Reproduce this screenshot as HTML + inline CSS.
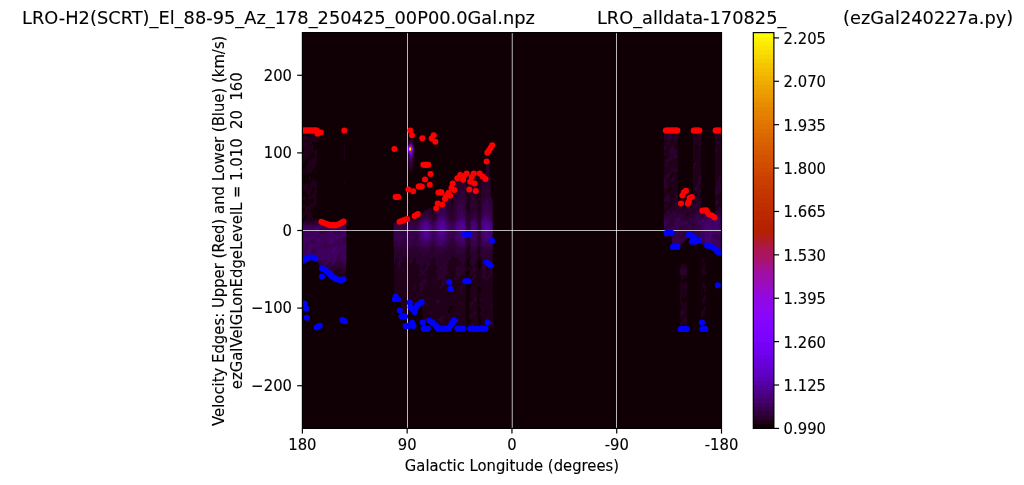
<!DOCTYPE html>
<html lang="en"><head><meta charset="utf-8"><title>LRO ezGal velocity edges</title>
<style>html,body{margin:0;padding:0;background:#fff}svg{display:block}text{font-family:"DejaVu Sans","Liberation Sans",sans-serif;fill:#000;stroke:#000;stroke-width:.12px}.s{font-size:14.815px}.t{font-size:17.778px}</style></head><body>
<svg width="1024" height="485" viewBox="0 0 1024 485">
<rect width="1024" height="485" fill="#fff"/>
<rect x="302.4" y="32.6" width="419.1" height="395.79999999999995" fill="#100006"/>
<clipPath id="ac"><rect x="302.4" y="32.6" width="419.1" height="395.79999999999995"/></clipPath>
<g clip-path="url(#ac)">
<g shape-rendering="crispEdges">
<path fill="#200019" d="M304.5 134L304.7 133.9L304.9 134L305.9 136L307.1 135.4L307.9 136L308.2 136.9L309.4 137L310.5 136.8L310.7 136L311.4 134L311.7 133.9L312.9 133.7L314 133.6L315.2 133.4L316.4 132.8L317.1 134L317 136L317 138L316.9 140L316.7 142L316.4 143L315.9 142L315.2 141.1L314.2 142L314 142.3L313.8 142L313.8 140L312.9 139.8L312.6 140L312.4 142L312.1 144L312.9 144.6L314 145.1L314.5 146L314 146.8L313.4 148L313.5 149.9L314 151.1L314.5 149.9L315.2 149L316.4 149.2L316.8 149.9L316.9 151.9L316.5 153.9L316.7 155.9L316.7 157.9L316.9 159.9L317 161.9L316.6 163.9L316.4 164.7L315.6 165.9L315.2 166L314 167.2L313.8 167.8L313.6 169.8L312.9 170.8L312.3 171.8L311.7 172.8L310.7 173.8L310.5 174.2L310.2 173.8L309.4 173.4L308.9 173.8L308.2 174.6L307.6 173.8L307.1 172.2L305.9 172.7L305.1 173.8L304.7 174.3L303.6 174.8L302.6 173.8L302.7 171.8L303.6 171L304.3 169.8L304.7 168.4L305.7 169.8L305.9 170.4L306.1 169.8L306.2 167.8L306.8 165.9L307.1 165.4L307.6 163.9L308 161.9L308.2 161.4L309.2 159.9L309.4 159.2L310.1 159.9L310.5 160L310.6 159.9L311.7 158.2L312.9 158.6L313.7 157.9L313.8 155.9L314 155.6L314.9 153.9L314 152.5L313.3 151.9L312.9 151.5L311.9 151.9L311.7 152.3L311.1 153.9L310.5 154.6L310.1 153.9L309.4 153.7L309.2 153.9L309.3 155.9L308.6 157.9L308.2 158.1L307.1 158.4L306.1 159.9L305.9 160.2L304.7 161.3L304.1 161.9L303.6 163.3L302.8 161.9L303.5 159.9L302.7 157.9L302.6 155.9L302.6 153.9L303.6 152.3L303.8 151.9L303.9 149.9L303.6 149.2L302.7 148L302.5 146L302.5 144L302.6 142L302.6 140L302.6 138L303.6 136.4L303.8 136ZM304.7 147.5L304.2 148L304.7 148.7L305.1 148ZM310.5 144.4L309.5 146L310.5 146.5L311.1 146ZM312.9 135.1L312.7 136L312.9 136.4L313.1 136ZM343.8 134L344.3 133.2L344.8 134L344.5 136L344.4 138L344.3 138.9L344.2 138L344.1 136ZM663.8 134L664.5 132.9L665.6 132.8L666.8 132.8L667.9 132.7L669.1 132.8L670.3 132.6L671.4 132.8L672.6 133.3L673.8 133.1L674.9 132.9L676.1 132.7L677.3 132.6L678.1 134L678.1 136L678.1 138L678 140L678 142L678 144L677.9 146L678 148L678 149.9L678 151.9L678.1 153.9L678.1 155.9L678.1 157.9L678 159.9L677.7 161.9L677.8 163.9L677.8 165.9L678.1 167.8L678.2 169.8L677.8 171.8L677.3 172.9L676.9 173.8L677.3 174.4L677.9 175.8L678 177.8L677.9 179.8L677.6 181.8L677.6 183.8L677.9 185.7L678 187.7L677.9 189.7L678 191.7L678.1 193.7L678.1 195.7L678.2 197.7L677.9 199.7L678 201.7L677.9 203.6L678 205.6L678.4 206.5L679 205.6L679.6 204.7L680.8 204.4L681.3 203.6L681.3 201.7L681.9 200.6L682.4 199.7L682.4 197.7L682.2 195.7L683.1 194.2L683.4 193.7L684.2 192.3L685.4 192.3L686.6 192.3L687.7 192.6L688.4 193.7L688.9 194.8L690.1 194.3L690.9 195.7L691.2 196.5L691.9 197.7L692.4 198.3L692.7 197.7L692.7 195.7L692.8 193.7L692.8 191.7L692.8 189.7L692.9 187.7L693.1 185.7L693.1 183.8L693 181.8L692.8 179.8L692.7 177.8L692.8 175.8L692.9 173.8L692.9 171.8L692.8 169.8L692.7 167.8L692.8 165.9L693.1 163.9L693.6 162.3L694.7 162.2L695.5 161.9L694.7 161L693.6 161.5L693 159.9L693.4 157.9L693.2 155.9L693.5 153.9L693.2 151.9L692.9 149.9L692.9 148L692.8 146L693 144L692.8 142L692.8 140L693.1 138L693.2 136L693.4 134L693.6 133.8L694.7 133.5L695.9 133.2L697.1 133.1L698.2 133.8L699.4 132.8L700.5 132.7L701.3 134L701.3 136L701.2 138L701.3 140L701.4 142L701.4 144L701.3 146L701.2 148L701.2 149.9L701.1 151.9L700.9 153.9L700.6 155.9L701.1 157.9L701 159.9L700.5 161.5L700.4 161.9L700.5 162.5L700.9 163.9L701 165.9L701.2 167.8L701.2 169.8L701.2 171.8L701.3 173.8L701.3 175.8L701.3 177.8L701.4 179.8L701.4 181.8L701.3 183.8L701.2 185.7L701.2 187.7L701.3 189.7L701.4 191.7L701.1 193.7L701 195.7L701.1 197.7L701.1 199.7L701.3 201.7L701.3 203.6L701.4 205.6L701.4 207.6L701.4 209.6L701.4 211.6L701.7 211.9L702.9 212L704 212.1L705.2 212L706.4 212L707.5 212L708.5 213.6L708.7 213.9L709.9 213.9L710.9 215.6L711 215.8L712.2 215.8L713.2 217.6L713.4 217.8L714.5 217.8L714.7 217.6L714.7 215.6L714.7 213.6L714.8 211.6L715.6 209.6L715.2 207.6L715 205.6L714.9 203.6L714.8 201.7L714.9 199.7L715 197.7L714.9 195.7L714.8 193.7L714.8 191.7L714.8 189.7L714.9 187.7L715.2 185.7L715 183.8L715.3 181.8L715.3 179.8L715 177.8L715 175.8L714.9 173.8L715 171.8L715 169.8L715.2 167.8L715.3 165.9L715.1 163.9L715.1 161.9L715.1 159.9L715.6 157.9L715.1 155.9L715 153.9L714.9 151.9L714.9 149.9L714.9 148L715.3 146L715 144L715 142L715 140L714.8 138L715 136L715.3 134L715.7 133.5L716.8 133.1L718 132.7L719.2 132.5L720.3 132.8L721.5 133.4L721.5 134L721.5 135.6L721 136L721.5 136.3L721.5 138L721.5 140L721.5 142L721.5 144L721.5 146L721.5 148L721.5 149.9L721.5 151.6L721.3 151.9L721.5 153.1L721.5 153.9L721.5 155.9L721.5 157.9L721.5 159.9L721.5 161.9L721.5 163.9L721.5 165.9L721.5 167.8L721.5 169.8L721.5 171.8L721.5 173.8L721.5 175.8L721.5 177.8L721.5 178.3L721.1 179.8L721.5 181.6L721.5 181.8L721.5 183L721.4 183.8L721.5 183.9L721.5 185.7L721.5 187.7L721.5 189.7L721.5 191.7L721.5 193.3L721.3 193.7L721.2 195.7L720.3 197.5L720.3 197.7L720.3 197.8L721.5 198.1L721.5 199.7L721.5 201.7L721.5 203.6L721.5 205.6L721.5 207.6L721.5 209.6L721.5 211.6L721.5 213.6L721.5 215.6L721.5 217.6L721.5 219.6L721.5 221.5L721.5 223.5L721.5 225.5L721.5 227.5L721.5 229.5L721.5 231.5L721.5 233.5L721.5 235.5L721.5 237.5L721.5 239.5L721.5 241.4L721.5 243.4L721.5 245.4L721.5 247.4L721.5 249.4L721.5 251.4L721.5 253.4L721.5 255.1L720.3 255.1L719.2 255.1L718.2 253.4L718 253.2L716.8 253.1L715.7 253.1L714.7 251.4L714.5 251.1L713.4 251.2L712.3 249.4L712.2 249.2L711 249.2L709.9 249.2L708.8 247.4L708.7 247.2L707.5 247.2L706.4 247.2L705.3 245.4L705.2 245.2L704 245.2L702.9 245.2L701.9 243.4L701.7 243.2L700.5 243.1L699.4 243.1L698.2 243.2L698.1 243.4L697.1 245.2L695.9 245.2L694.7 245.1L693.6 245.1L692.6 243.4L692.6 241.4L692.4 241.1L691.4 239.5L691.2 239.1L690.1 239.1L688.9 239.1L687.9 237.5L687.7 237.1L687.5 237.5L686.6 239.1L686.4 239.5L685.4 241.1L685.2 241.4L684.2 243L683.1 243.1L682.8 243.4L681.9 245L681.7 245.4L680.8 247L679.6 247L679.4 247.4L678.4 249L677.3 249.1L676.1 249.1L674.9 249.1L673.8 249.1L672.8 247.4L672.8 245.4L672.6 245.1L671.6 243.4L671.6 241.4L671.6 239.5L671.6 237.5L671.4 237.1L670.3 237.1L669.1 237.1L667.9 237.1L666.8 237.1L665.6 237.2L664.5 237.1L663.5 235.5L663.5 233.5L663.5 231.5L663.5 229.5L663.5 227.5L663.5 225.5L663.4 223.5L663.5 221.5L663.5 219.6L663.5 217.6L663.6 215.6L663.7 213.6L663.7 211.6L663.8 209.6L663.7 207.6L663.9 205.6L663.9 203.6L663.8 201.7L663.6 199.7L663.8 197.7L664 195.7L663.8 193.7L663.7 191.7L663.8 189.7L663.7 187.7L663.7 185.7L663.7 183.8L663.6 181.8L663.6 179.8L663.7 177.8L663.9 175.8L664.4 173.8L664 171.8L664 169.8L663.9 167.8L663.8 165.9L663.8 163.9L663.8 161.9L663.9 159.9L664 157.9L663.8 155.9L663.9 153.9L664.1 151.9L663.8 149.9L663.6 148L663.7 146L664.2 144L664 142L663.7 140L663.7 138L663.7 136ZM665.6 155.5L665.4 155.9L665.2 157.9L665.6 158.5L666.8 158L666.9 157.9L666.8 157.7L665.8 155.9ZM667.9 169.4L667.3 169.8L667.9 170.7L669.1 169.8ZM669.1 179L668.8 179.8L669.1 180.4L669.4 179.8ZM670.3 163.8L670.2 163.9L670.3 164L671.4 165.2L671.9 163.9L671.4 163.6ZM672.6 173.2L672.3 173.8L671.4 174.6L670.4 175.8L670.3 176.2L669.6 177.8L670.3 178.5L671.2 177.8L671.4 177.6L672.6 175.8L672.6 175.8L673.1 173.8ZM674.9 183.1L674.3 183.8L674.9 184.2L675.1 183.8ZM685.4 203.6L685.4 203.6L685.4 203.7L685.5 203.6ZM687.7 196.8L687 197.7L686.6 198L685.5 199.7L685.9 201.7L686.6 203L687.2 201.7L687.2 199.7L687.7 198.3L688.1 197.7ZM694.7 149.3L694.6 149.9L694.7 150.5L694.8 149.9ZM697.1 145.7L696.8 146L695.9 147L695 148L695.9 148.8L697.1 149L698.1 148L698.2 146.8L698.3 146L698.2 145.8ZM718 157.7L717.9 157.9L718 158L718.1 157.9ZM719.2 138L719.1 138L719.2 138.1L719.3 138ZM670.3 183.7L670.2 183.8L670.3 183.8L670.3 183.8ZM671.4 187L671.1 187.7L670.3 188.7L669.1 188.9L667.9 189.6L667.9 189.7L667.1 191.7L667.9 192.8L668.7 191.7L669.1 190.9L670.3 191.5L671.1 189.7L671.4 188.6L672.1 187.7ZM694.7 153.5L693.7 153.9L694.7 154.4L694.9 153.9ZM697.1 175.6L697 175.8L697.1 175.9L697.1 175.8ZM670.3 204.9L669.7 205.6L670.3 206.4L670.8 205.6ZM671.4 203.4L671.3 203.6L671.4 204L671.6 203.6ZM408.7 140L409.5 138.6L410.7 138.1L411.8 138.3L413 139.9L413 140L413.9 142L414.2 143.3L414.4 144L414.8 146L415 148L415 149.9L415 151.9L415 153.9L414.9 155.9L414.7 157.9L414.6 159.9L414.3 161.9L414.2 162.9L414.1 163.9L413.9 165.9L413.5 167.8L413 169.8L413 169.9L412.4 171.8L411.8 173L410.7 173.6L409.5 172.1L409.4 171.8L408.8 169.8L408.4 167.8L408.3 167.8L407.9 165.9L407.6 163.9L407.4 161.9L407.3 159.9L407.2 157.9L407.2 157.1L407 155.9L406.8 153.9L406.5 151.9L406.2 149.9L406.2 148L406.8 146L407.2 144.7L407.3 144L407.7 142L408.3 140.6ZM315 144L315.2 143.5L315.6 144L315.2 144.3ZM344 144L344.3 142.2L344.6 144L344.6 146L344.9 148L344.5 149.9L344.9 151.9L345.1 153.9L345 155.9L345.1 157.9L344.5 159.9L344.3 160.9L344.1 159.9L343.5 157.9L343.6 155.9L343.6 153.9L343.7 151.9L344.1 149.9L343.7 148L344 146ZM485.5 163.9L486.3 162.4L487.5 162.4L488.7 162.5L489.5 163.9L489.5 165.9L489.5 167.8L489.4 169.8L489.4 171.8L489.4 173.8L489.8 174.4L490.6 175.8L490.7 177.8L490.6 179.8L490.7 181.8L490.7 183.8L490.7 185.7L490.7 187.7L490.7 189.7L490.7 191.7L490.7 193.7L490.8 195.7L491 196.2L491.9 197.7L492.2 198.1L493.1 199.7L493.1 201.7L493.1 203.6L493.1 205.6L493.1 207.6L493.1 209.6L493.1 211.6L493.1 213.6L493.1 215.6L493.1 217.6L493.2 219.6L493.2 221.5L493.2 223.5L493.2 225.5L493.2 227.5L493.2 229.5L493.2 231.5L493.2 233.5L493.2 235.5L493.2 237.5L493.2 239.5L493.2 241.4L493.2 243.4L493.2 245.4L493.1 247.4L493.1 249.4L493 251.4L493.1 253.4L493 255.4L492.9 257.4L492.9 259.3L492.9 261.3L492.8 263.3L492.9 265.3L492.9 267.3L492.9 269.3L492.9 271.3L492.9 273.3L492.9 275.3L492.8 277.2L492.8 279.2L492.7 281.2L492.8 283.2L492.9 285.2L492.7 287.2L492.5 289.2L492.6 291.2L492.4 293.2L492.7 295.1L492.8 297.1L492.7 299.1L492.8 301.1L492.9 303.1L492.9 305.1L492.9 307.1L492.7 309.1L492.7 311.1L492.8 313L492.7 315L492.5 317L492.8 319L492.7 321L492.8 323L492.7 325L492.7 327L492.2 328L491 328.1L489.8 328L488.7 327.9L487.5 327.9L486.3 328L485.2 328L484 328.1L482.8 327.6L481.7 327.8L480.8 327L480.5 326.4L479.4 325L480.5 323.9L480.9 323L480.9 321L481 319L481 317L480.5 316.3L479.4 315L479.4 313L480.5 311.9L480.7 311.1L480.5 309.1L480.5 309L479.4 307.1L479.4 305.1L479.4 303.1L479.4 301.1L479.4 299.1L479.4 297.1L479.4 295.1L479.4 293.2L480.5 292L480.6 291.2L480.9 289.2L480.5 287.6L479.4 287.2L479.4 286.1L478.2 286.1L478.2 287.2L478.2 289.2L478.2 291.2L478.2 293.2L478.2 295.1L478.2 297.1L478.2 299.1L478.2 301.1L478.2 303.1L478.2 305.1L478.2 307.1L478.2 309.1L478.2 311.1L478.2 313L478.2 315L478.1 317L478.2 319L478.2 321L478.2 323L478.2 325L478.2 327L477 327.9L475.9 328L474.7 327.9L473.5 327.8L472.4 328.1L471.2 328.1L470 327.6L469.1 327L470 325.2L470.1 325L470.3 323L471.2 321.1L471.3 321L471.2 320.9L470 319.8L469.2 319L469 317L469 315L469.1 313L469 311.1L469 309.1L469 307.1L469 305.1L469 303.1L469.2 301.1L470 299.9L470.2 299.1L470 298.4L469.2 297.1L469.8 295.1L469.4 293.2L469.6 291.2L470 289.2L470 289.1L470.4 287.2L471.2 285.5L471.5 285.2L471.2 284.8L470.6 283.2L470.2 281.2L470 280.4L469.2 281.2L468.9 282.4L467.7 282.5L467.2 283.2L466.5 284.5L466.5 285.2L466.4 287.2L466.4 289.2L466.4 291.2L466.4 293.2L466.1 295.1L466.3 297.1L466.5 299.1L466.4 301.1L466.4 303.1L466.4 305.1L466.2 307.1L466.4 309.1L466.3 311.1L466.3 313L466.3 315L466.4 317L466.4 319L466.4 321L466.4 323L466.4 325L466.2 327L465.4 327.4L464.2 327.8L463.1 327.9L461.9 328.2L460.7 328.2L459.6 328.1L458.4 328.1L457.2 328.1L456.1 328.2L454.9 327.9L453.7 327.6L452.6 327.9L451.4 328.1L450.2 328L449.1 328.2L447.9 328.2L446.8 328.1L445.6 327.8L444.4 327.8L443.3 328.1L442.1 328.1L440.9 327.9L439.8 328L439.2 327L438.6 326.2L437.4 326.1L436.8 325L436.3 324.1L435.1 324L434 324L432.8 323.5L431.6 323.3L430.8 323L430.5 322.8L429.3 321.9L428.1 322L427 322.2L425.8 322.4L424.6 322.4L423.5 322.3L422.7 321L422.8 319L422.8 317L422.8 315L422.9 313L422.9 311.1L422.3 310L421.8 309.1L421.8 307.1L421.7 305.1L421.1 304.1L420 304L418.8 303.7L417.7 303.8L416.5 304.1L415.3 304L414.2 303.8L413 303.5L411.8 303.8L410.7 304.2L409.5 304L409 305.1L408.9 307.1L409 309.1L408.8 311.1L408.6 313L408.3 313.5L407.6 315L407.6 317L407.2 317.7L406 317.7L404.8 317.7L404.4 317L403.7 315.5L402.5 316L401.4 316L400.8 315L400.7 313L400.7 311.1L400.9 309.1L401 307.1L401 305.1L400.8 303.1L400.2 302.4L399.4 301.1L399 300.4L397.9 300.3L397.2 299.1L396.7 298.3L395.5 298.1L394.4 297.8L394 297.1L394 295.1L393.9 293.2L393.7 291.2L393.7 289.2L393.7 287.2L394 285.2L393.8 283.2L393.8 281.2L394 279.2L393.9 277.2L393.9 275.3L393.8 273.3L393.7 271.3L393.7 269.3L393.7 267.3L393.7 265.3L393.6 263.3L393.6 261.3L393.6 259.3L393.5 257.4L393.5 255.4L393.5 253.4L393.6 251.4L393.5 249.4L393.5 247.4L393.4 245.4L393.4 243.4L393.4 241.4L393.4 239.5L393.4 237.5L393.4 235.5L393.4 233.5L393.4 231.5L393.4 229.5L393.4 227.5L393.4 225.5L393.4 223.5L394.4 221.9L395.5 221.9L396.7 221.9L397.9 221.9L399 221.8L400.2 221.9L401.4 221.9L402.5 221.9L403.7 222L403.9 221.5L404.8 220L406 220L407.2 220L408.3 220L409.5 220L409.8 219.6L410.7 218.1L411.8 218.2L412.2 217.6L413 216.2L414.2 216.3L415.3 216.5L415.7 215.6L416.5 214.3L417.7 214.2L418.8 214.2L419.1 213.6L420 212.2L421.1 212.1L422.3 212.1L423.5 212.1L423.8 211.6L424.6 210.1L425.8 210L427 210L427.2 209.6L428.1 208.1L429.3 208.1L430.5 208.2L431.6 208.4L432.2 207.6L432.8 206.6L434 206.4L435.1 206.2L435.4 205.6L436.3 204.2L437.4 204.2L438.6 204.1L438.9 203.6L439.8 202.1L440.9 202L441.2 201.7L442.1 200.1L442.4 199.7L443.3 198.2L444.4 198.3L445 197.7L445.6 196.7L446.1 195.7L446.8 194.6L447.3 193.7L447.9 192.6L449.1 192.6L449.6 191.7L450.2 190.6L450.9 189.7L451.4 188.8L452 187.7L452.6 186.7L453 185.7L453.7 184.6L454.1 183.8L454.9 182.4L455.3 181.8L456.1 180.4L456.5 179.8L457.2 178.4L458.4 178.6L458.8 177.8L459.6 176.5L460.7 176.4L461.9 176.3L463.1 176.3L464.2 176.5L465.4 176.6L466.5 177.4L467.7 177.6L468.9 177L470 176.7L471.2 176.4L472.4 176.4L473.5 176.5L474.7 176.5L475.9 176.6L477 177L478.2 177.8L478.2 177.8L478.2 177.8L479.4 177L480.5 176.6L481.7 176.4L482.8 176.3L484 176.3L484.4 175.8L484.4 173.8L485.2 172.5L485.6 171.8L485.5 169.8L485.5 167.8L485.5 165.9ZM486.3 310.7L485.3 311.1L485.2 311.3L484.8 313L485.2 313.9L486.3 313.3L486.8 313L487 311.1ZM489.8 291.1L489.7 291.2L489.8 291.4L490.1 291.2ZM403.7 292.3L403.6 293.2L403.7 293.4L403.7 293.2ZM404.8 299.1L404.8 299.1L404.8 299.2L404.9 299.1ZM407.2 298.5L406.5 299.1L407.2 299.9L407.5 299.1ZM415.3 300.9L415 301.1L415.3 301.3L415.5 301.1ZM432.8 294.8L432.7 295.1L432.7 297.1L432.8 297.2L434 297.8L434.6 297.1L434.2 295.1L434 294.4ZM435.1 290.9L434.9 291.2L435.1 291.8L435.2 291.2ZM446.8 316.8L446.5 317L446.8 317.2L447.2 317ZM447.9 284.9L447.6 285.2L447.9 285.3L448.8 285.2ZM450.2 285L449.2 285.2L450.2 285.8L450.5 285.2ZM451.4 274.7L450.5 275.3L451.4 275.7L452.4 275.3ZM452.6 271.2L452.5 271.3L452.1 273.3L452.6 275L453.1 273.3L452.6 271.3ZM467.7 191.3L467.4 191.7L467.7 191.8L468.7 191.7ZM468.9 187.5L468.4 187.7L468.9 188.8L469.1 187.7ZM472.4 318.7L472.1 319L472.4 319.6L472.7 319ZM478.2 197L478.1 197.7L478.2 198.5L478.7 197.7ZM482.8 314.7L482.4 315L482.8 315.6L483.5 315ZM452.6 304.7L452.3 305.1L451.4 306.4L450.2 306.1L449.3 307.1L449.1 308.9L449 309.1L447.9 310.8L447.8 311.1L447.9 312.2L448.3 313L449.1 313.5L450.2 313.5L450.5 313L450.2 311.7L450 311.1L450.2 310.8L451.1 309.1L451.4 308.4L452.3 309.1L452.6 309.3L452.7 309.1L452.6 307.1L452.9 305.1ZM467.7 252.8L467.2 253.4L467.7 253.9L468 253.4ZM478.2 260.8L478 261.3L477.6 263.3L477.5 265.3L477.9 267.3L478.2 268.1L479.4 268.6L480.5 267.7L480.6 267.3L480.8 265.3L480.7 263.3L480.9 261.3L480.5 260L479.4 259.5ZM467.7 258.7L467.3 259.3L466.5 260.9L466.5 261.3L466.5 262.5L466.7 263.3L466.5 264.4L466.5 265.3L466.5 267.3L466.5 267.4L467.7 267.5L468 267.3L468.9 266.5L469.3 265.3L468.9 263.8L468.6 263.3L468.9 262.9L469.3 261.3L469.5 259.3L468.9 257.8ZM478.2 279.9L477.9 281.2L478 283.2L478.2 285.2L479.1 283.2L479 281.2ZM479.4 270.2L479 271.3L479.4 272L479.6 271.3ZM480.5 281.1L480.4 281.2L480.5 282.1L480.5 281.2ZM468.9 269.4L467.7 271.3L467.7 271.3L466.5 272L466.3 273.3L465.6 275.3L466.2 277.2L466.5 278.6L467.1 277.2L467.7 276L468 275.3L468.7 273.3L468.9 272.8L469.2 271.3ZM466.5 280.9L466.5 281.2L466.5 281.4L466.6 281.2ZM467.7 279.1L467.6 279.2L467.7 279.3L467.8 279.2ZM314.8 169.8L315.2 169.5L315.7 169.8L316.4 171.3L316.5 171.8L316.8 173.8L316.4 174.7L315.7 173.8L315.2 172.8L314.4 171.8ZM344.2 173.8L344.3 173.4L344.4 173.8L344.3 174ZM309.4 175.8L309.4 175.8L309.4 175.8L310.5 177.3L311.7 177.8L311.7 177.8L311.7 177.8L310.9 179.8L310.5 180.4L309.4 181.7L308.6 179.8L309.4 177.8ZM314.9 175.8L315.2 175.2L315.4 175.8L315.2 176.2ZM313.8 177.8L314 177.4L314.2 177.8L314 178.7L313.9 179.8L314 180L315.2 180.6L316.4 180.2L316.9 181.8L317.1 183.8L317.1 185.7L317 187.7L317.1 189.7L317.1 191.7L317 193.7L316.9 195.7L316.8 197.7L316.9 199.7L317 201.7L317 203.6L316.4 205.3L315.8 205.6L315.2 205.9L314 207.2L312.9 207.6L313.4 209.6L312.9 210.9L312.1 209.6L311.7 209.2L311 209.6L311.2 211.6L311.5 213.6L311.7 214.3L312.3 215.6L312.2 217.6L312.9 218.1L314 217.8L315.2 218.4L316.2 217.6L316.4 217.2L316.5 217.6L317.1 219.6L317.2 221.5L317.5 222L318.7 221.9L319.9 221.9L321 221.9L322.2 221.9L323.4 222.1L324.5 222.1L325.7 222.1L326.8 222L328 222L329.2 222L330.3 222L331.5 222L332.7 222L333.8 222L335 222L336.2 222L337.3 222L338.5 222.1L339.7 222L340.8 222L342 221.9L343.1 221.9L344.3 221.9L345.5 222L346.4 223.5L346.5 225.5L346.5 227.5L346.5 229.5L346.5 231.5L346.5 233.5L346.5 235.5L346.5 237.5L346.5 239.5L346.5 241.4L346.5 243.4L346.5 245.4L346.5 247.4L346.5 249.4L346.5 251.4L346.5 253.4L346.5 255.4L346.5 257.4L346.5 259.3L346.5 261.3L346.5 263.3L346.4 265.3L346.4 267.3L346.4 269.3L346.3 271.3L346.1 273.3L346 275.3L345.9 277.2L345.9 279.2L345.5 279.9L344.8 279.2L344.4 277.2L344.3 277.2L344.2 277.2L343.1 278.9L343.1 279.2L342 280.4L340.8 280.5L340.1 279.2L339.7 278.1L338.5 278L337.3 278.1L336.2 278.6L335 278.5L333.8 278.6L333 277.2L332.7 276.3L331.5 276.4L330.3 276.1L329.8 275.3L329.2 274.4L328 274.5L326.8 274.5L326.1 273.3L325.7 272.9L324.5 272.7L323.7 271.3L323.4 270.8L322.2 270.9L321.3 269.3L321 268.9L320.1 267.3L319.9 266.9L318.9 265.3L318.7 265L317.7 263.3L317.5 263L316.6 261.3L316.4 261.1L315.2 261.1L314 261.1L312.9 261.1L311.7 261.1L310.5 261L309.4 261L308.2 261L307.1 261L306.9 261.3L305.9 263.1L304.7 263L303.6 263.1L302.4 262.9L302.4 261.3L302.4 259.3L302.4 257.4L302.4 255.4L302.4 253.4L302.4 251.4L302.4 249.4L302.4 247.4L302.4 245.4L302.4 243.4L302.4 241.4L302.4 239.5L302.4 237.5L302.4 235.5L302.4 233.5L302.4 231.5L302.4 229.5L302.4 227.5L302.4 225.5L302.4 223.5L302.4 221.7L302.9 221.5L303.6 221.3L304.7 220.2L305.4 219.6L305.9 217.8L307.1 218.1L307.1 217.6L307.1 217L306.9 215.6L305.9 213.7L305 215.6L304.7 216.5L304.3 217.6L303.6 218.4L302.5 217.6L302.6 215.6L302.5 213.6L302.6 211.6L303.6 210.8L304.7 210.7L305.4 209.6L304.9 207.6L304.7 207.4L304.2 207.6L303.6 207.8L303.1 207.6L302.9 205.6L303.6 205L304.7 204.5L305.4 205.6L305.9 206.7L307.1 206.1L308.2 205.9L308.6 205.6L309 203.6L309.4 202.8L310.5 203.5L311.7 202.5L312.9 202.6L313.7 201.7L313.9 199.7L312.9 198.9L311.7 198.7L310.5 199.2L309.7 199.7L309.4 200L309.2 199.7L308.2 198.3L307.1 198.3L306.6 197.7L307.1 196.7L308.2 196.6L308.7 195.7L308.2 194.6L307.1 194.5L306.7 193.7L306.5 191.7L305.9 190.9L304.7 190.6L303.6 190.6L302.8 189.7L302.5 187.7L302.6 185.7L302.7 183.8L303.6 183L304 183.8L304.7 184.8L305.9 184.3L306.8 183.8L307.1 183.4L308.2 183L308.5 183.8L309 185.7L308.2 186.9L307.8 187.7L308.2 188.6L309.4 187.9L309.6 187.7L309.7 185.7L309.9 183.8L310.5 182.8L311.2 181.8L311.7 180.9L312.2 179.8L312.9 178.6ZM308.2 211.4L307.7 211.6L308.2 212.2L309 211.6ZM310.5 218.7L310.1 219.6L310.5 220.2L311.7 220L312 219.6L311.7 218.6ZM307.1 188.7L306.5 189.7L307.1 190.9L307.8 189.7ZM312.9 186.7L312.1 187.7L312 189.7L311.7 190.4L310.7 191.7L310.5 192.1L309.9 193.7L310.5 194.9L311.7 194.2L312.5 193.7L312.9 193.1L313.5 191.7L314 191.1L314.7 189.7L315.2 187.7L314 187ZM304.6 179.8L304.7 179.5L305.9 178.4L307.1 178.9L307.6 179.8L307.1 180.3L305.9 180.1L304.7 180.8ZM344 181.8L344.3 181.3L344.7 181.8L344.9 183.8L344.3 184.7L343.7 183.8ZM304.5 195.7L304.7 195.4L305 195.7L305.3 197.7L305.8 199.7L304.7 201L303.6 199.8L303.4 199.7L302.7 197.7L303.6 196.6ZM306.8 203.6L307.1 203.3L307.3 203.6L307.1 204.6ZM315.1 211.6L315.2 211.2L316.4 211.5L316.4 211.6L316.4 212.6L315.2 212.9ZM313.6 213.6L314 213.1L315 213.6L314 214.4ZM302.4 219.6L302.4 217.8L302.7 219.6L302.4 221ZM701.1 259.3L701.7 258.2L702.9 258.3L704 258.8L704.7 259.3L704 260.3L703.7 261.3L702.9 262.5L701.7 263.1L701 261.3ZM704.2 263.3L705.2 262.8L705.6 263.3L706 265.3L705.5 267.3L705.2 269.3L705.7 271.3L705.8 273.3L705.2 274.3L704.3 275.3L704 275.9L702.9 276.1L702 277.2L701.7 277.6L701.4 277.2L701.5 275.3L701.6 273.3L701.1 271.3L701.2 269.3L701.1 267.3L701.7 265.8L702.1 265.3L702.9 264.3L704 263.5ZM467 265.3L467.7 264.9L467.9 265.3L467.7 266.3ZM680.1 265.3L680.8 264.3L681.9 264.2L683.1 264.2L684.2 264.1L685.4 264.1L686.6 264.1L687.3 265.3L687.2 267.3L687.3 269.3L687.3 271.3L687.3 273.3L686.9 275.3L686.8 277.2L686.6 279L685.8 277.2L685.4 277.1L685.3 277.2L684.2 278.9L683.6 279.2L683.1 280.6L681.9 280.5L681.3 281.2L681.9 282.8L682.4 283.2L683.1 283.7L683.3 283.2L684.2 282.3L685.4 281.8L685.9 281.2L686.6 279.3L687.1 281.2L687.2 283.2L687.3 285.2L687.3 287.2L687.3 289.2L687.1 291.2L687.1 293.2L686.9 295.1L686.6 295.8L685.5 297.1L685.4 297.3L684.2 297.4L683.1 298L682.6 297.1L681.9 296.3L681.4 297.1L681.9 298.5L682.3 299.1L682.5 301.1L682.6 303.1L683.1 303.4L683.3 303.1L684.2 301.5L685.4 301.7L686 301.1L686.6 299.8L686.9 301.1L687.1 303.1L687 305.1L687.2 307.1L686.9 309.1L686.8 311.1L686.8 313L687.2 315L687.3 317L687.3 319L687.3 321L687.2 323L686.6 324.6L685.4 324.6L684.2 324.9L683.1 323.9L682.5 325L681.9 326.3L680.8 326.8L680.1 325L680.3 323L680.6 321L680.5 319L680.2 317L680 315L679.9 313L680.1 311.1L680.4 309.1L680.8 307.2L680.9 307.1L681.6 305.1L680.8 304.2L680.2 303.1L680 301.1L680.3 299.1L680.2 297.1L680.1 295.1L680.2 293.2L680.4 291.2L680.5 289.2L680.2 287.2L680.4 285.2L680.4 283.2L680.5 281.2L680.8 279.7L680.9 279.2L681.1 277.2L680.8 276.8L680 275.3L679.9 273.3L679.8 271.3L679.9 269.3L680 267.3ZM683.1 290.7L682.8 291.2L683.1 291.4L683.3 291.2ZM705.1 279.2L705.2 279.1L705.3 279.2L705.5 281.2L705.4 283.2L705.6 285.2L705.6 287.2L705.5 289.2L705.7 291.2L705.2 293L704.2 291.2L704.5 289.2L704 288.4L702.9 288.3L702 289.2L702.7 291.2L702.9 291.4L703.4 293.2L702.9 293.7L702.2 295.1L701.7 295.9L701.3 295.1L701.5 293.2L701.5 291.2L701.6 289.2L701.6 287.2L701.7 285.9L702.1 285.2L702.5 283.2L702.9 282.7L704 282.2L704.9 281.2ZM703.7 295.1L704 294.1L705.2 293.5L705.4 295.1L705.7 297.1L705.7 299.1L705.2 301.1L705.2 301.2L704.6 303.1L704 304.3L702.9 304.8L702 303.1L701.7 302.8L701.3 301.1L701.7 299.7L702 299.1L702.9 297.3L702.9 297.1ZM705.1 305.1L705.2 304.9L705.2 305.1L705.6 307.1L705.8 309.1L705.2 310.9L705 311.1L705.2 311.7L705.4 313L705.4 315L705.2 316.4L704 315.6L703.4 317L702.9 317.8L701.7 318.8L701 317L701.1 315L701 313L701.2 311.1L701.7 310.3L702.9 309.6L703.3 309.1L703.9 307.1L704 306.7ZM703.6 321L704 320.3L705.2 319L705.8 321L705.8 323L705.5 325L705.6 327L705.2 327.6L704.1 327L704 326.9L702.9 326.1L701.7 325.5L701.6 325L701.2 323L701.7 321.8L702.9 322Z"/>
<path fill="#2a002c" d="M667.7 134L667.9 134L669.1 134L670.3 133.5L671.4 134L671.5 134L671.4 134.1L670.8 136L671.4 136.8L671.9 138L671.4 139.4L670.7 140L670.3 140.3L669.1 141.6L668.2 142L667.9 142.2L667.9 142L667.1 140L666.8 139.4L665.8 138L666.3 136L666.8 135ZM675.5 134L676.1 133.8L677.3 133.7L677.5 134L677.5 136L677.4 138L677.3 139.8L677.1 140L676.1 141.7L674.9 140.2L674.8 140L674.4 138L674 136L674.9 135ZM699.9 134L700.5 133.9L700.7 134L700.6 136L700.5 136.3L699.4 137L699.2 136L699.4 135ZM717.8 134L718 133.9L719.2 133.4L720.3 134L720.4 134L720.3 134.1L719.2 135.3L718 136L718 136L717 138L716.8 138.2L715.7 139.5L715.3 138L715.7 136.5L716.6 136L716.8 135.8ZM664.4 136L664.5 135.4L665 136L665.2 138L664.5 140L664.5 140.1L664.4 140L664.4 138ZM672.4 140L672.6 139.9L672.8 140L672.6 140.2ZM698.9 140L699.4 138.9L700.4 140L700.5 140.1L700.8 142L700.7 144L700.5 145.8L699.7 144L699.7 142L699.4 141.1ZM720 140L720.3 139.5L721.1 140L720.7 142L720.3 142.4L719.2 143.1L718.4 144L718 144.8L717.2 144L716.9 142L718 140.9L719.2 141.4ZM408.8 142L409.5 140.8L410.7 140.1L411.8 140.5L412.8 142L413 142.5L413.6 144L414 146L414.1 148L414.2 149.8L414.2 149.9L414.2 150.1L414.1 151.9L414.1 153.9L414 155.9L413.8 157.9L413.7 159.9L413.4 161.9L413 163.9L413 163.9L412.6 165.9L411.9 167.8L411.8 168L410.7 168.9L410 167.8L409.5 166.9L409.2 165.9L408.8 163.9L408.5 161.9L408.3 160.7L408.2 159.9L407.9 157.9L407.7 155.9L407.5 153.9L407.3 151.9L407.2 151.2L406.8 149.9L406.8 148L407.2 147L407.4 146L408 144L408.3 143.2ZM693.5 142L693.6 140.8L694.7 141.9L695.9 141.5L696.7 142L696.2 144L695.9 144.4L694.9 144L694.7 142.5L693.6 142.3ZM697.6 142L698.2 141.5L698.6 142L698.2 142.3ZM304.1 144L304.7 143.4L305 144L304.7 144.8ZM666.6 144L666.8 143.6L667.1 144L667.5 146L666.8 146.4L666.2 146ZM674.8 144L674.9 143.7L675.1 144L674.9 144.4ZM303.5 146L303.6 145.3L303.8 146L303.6 146.2ZM672.1 146L672.6 144.3L673.8 145.1L674.5 146L674.1 148L674.9 149.9L676.1 149.7L677.3 149.4L677.3 149.9L677.3 151.9L677.5 153.9L677.4 155.9L677.4 157.9L677.3 159.2L676.1 158.8L674.9 158.5L673.8 158.1L672.6 158.9L671.7 159.9L671.4 160.4L671 159.9L670.3 159.5L670.1 159.9L669.2 161.9L669.1 161.9L667.9 162.8L666.8 163.5L666.2 161.9L666.6 159.9L666.8 159.7L667.9 158.3L668.4 157.9L669.1 156.7L670.2 155.9L669.4 153.9L669.1 153.5L668.6 151.9L668.6 149.9L668.7 148L669.1 147.2L670 148L670.3 148.2L670.5 148L671.4 147ZM672.6 154.6L672.1 155.9L672.6 156.9L673.4 155.9ZM693.5 146L693.6 145.6L694.7 144.5L694.9 146L694.7 146.1L693.6 146.4ZM664.2 148L664.5 146.4L665.6 146.6L666.1 148L665.6 149L664.5 149.1ZM715.6 148L715.7 147.6L716.1 148L716.6 149.9L716.8 150.9L718 151.9L718 151.9L718 152L716.8 152.2L715.7 153.1L715.5 151.9L715.6 149.9ZM720.1 148L720.3 147.8L721.5 146.4L721.5 148L721.5 149.7L721.4 149.9L720.3 151.6L719.5 149.9ZM697.9 149.9L698.2 149.7L698.5 149.9L698.2 150.8ZM305.7 151.9L305.9 151.5L306.2 151.9L305.9 153.5ZM306.3 153.9L307.1 153.6L307.2 153.9L307.1 154ZM304.4 155.9L304.7 155.2L305.1 155.9L304.7 156.7ZM344.2 157.9L344.3 156.8L344.4 157.9L344.3 158.1ZM486 163.9L486.3 163.3L487.5 163.4L488.7 163.5L488.9 163.9L488.9 165.9L488.8 167.8L488.7 169.5L488.6 169.8L488.7 170.4L488.7 171.8L488.7 173.8L488.6 173.8L488.7 173.8L489.8 175.5L490 175.8L490.1 177.8L489.9 179.8L490.1 181.8L490.1 183.8L490.2 185.7L490.2 187.7L490.3 189.7L490.1 191.7L490.1 193.7L490.3 195.7L491 197L491.4 197.7L492.2 199L492.6 199.7L492.7 201.7L492.7 203.6L492.7 205.6L492.7 207.6L492.7 209.6L492.7 211.6L492.8 213.6L492.8 215.6L492.8 217.6L492.9 219.6L493 221.5L493 223.5L493 225.5L493 227.5L493.1 229.5L493 231.5L493 233.5L492.9 235.5L492.9 237.5L492.9 239.5L492.9 241.4L492.9 243.4L492.9 245.4L492.7 247.4L492.6 249.4L492.5 251.4L492.6 253.4L492.4 255.4L492.2 257.4L492.2 259.3L492.2 260.1L492 261.3L491 262.2L490.3 261.3L489.8 260.4L488.7 260.7L488.2 261.3L487.5 262.5L486.3 263.1L485.8 263.3L486.3 265.3L486.3 265.3L486.7 267.3L486.3 268.3L486 269.3L486.3 270.7L486.5 271.3L486.3 272.3L485.8 273.3L485.3 275.3L485.9 277.2L486.3 277.9L487 277.2L487.5 277L488.3 275.3L488.7 274.2L489.8 273.5L490.2 273.3L490 271.3L490.4 269.3L491 267.9L492.1 269.3L492.2 269.5L492.2 271.3L492.2 273.3L492.2 274.2L491.4 275.3L491 275.8L490.5 277.2L489.8 278L488.7 279L488.3 279.2L487.5 280L486.3 279.9L485.6 279.2L485.2 278.5L484 279.2L482.8 278.4L481.7 277.9L481.6 277.2L481.7 275.3L481.7 274.8L481.9 273.3L481.7 272.9L481.5 271.3L481.7 270.1L482.4 269.3L481.9 267.3L482.8 265.6L483 265.3L482.8 265L482.2 263.3L482.3 261.3L481.7 259.9L481.5 259.3L480.8 257.4L480.5 255.5L479.8 255.4L480.2 253.4L480.5 252L480.5 251.4L480.5 251.2L480 249.4L479.5 247.4L479.4 247.3L478.2 247.1L478 247.4L477.5 249.4L477.3 251.4L477.6 253.4L477.9 255.4L477.7 257.4L477 258.9L476.9 259.3L476.7 261.3L475.9 262.6L475 263.3L474.7 263.8L474 265.3L474.4 267.3L474.7 267.8L475.7 269.3L474.8 271.3L474.7 271.4L473.5 273.2L473.5 273.3L472.4 274.1L471.2 275L470.8 273.3L470.8 271.3L471.2 269.6L472.4 269.3L472.4 269.3L472.9 267.3L472.4 266.3L471.2 266.4L471 265.3L470.9 263.3L471.1 261.3L470.9 259.3L471.1 257.4L470.6 255.4L470.2 253.4L470.3 251.4L470.2 249.4L470.2 247.4L470.1 245.4L470 245.2L469 243.4L468.9 242.7L468.6 243.4L468.8 245.4L467.7 246.8L467.3 247.4L466.5 248.9L466.5 249.4L465.9 251.4L465.8 253.4L465.4 255.4L465.4 255.5L465.1 257.4L465.2 259.3L464.8 261.3L464.2 262.9L463.9 263.3L463.8 265.3L464.2 266.3L464.6 267.3L464.8 269.3L464.4 271.3L464.2 271.9L463.6 273.3L463.1 274L461.9 274.7L461.4 275.3L460.7 276L459.6 277L459 277.2L458.4 277.6L458.1 277.2L457.2 276.4L456.8 275.3L456.1 273.8L455.9 273.3L455.8 271.3L455.7 269.3L455.8 267.3L456.1 266.5L457.2 265.3L457 263.3L457.2 262.4L457.6 263.3L457.2 265.3L458.4 266.9L459.6 266L460.2 265.3L460.7 264L461 263.3L460.7 262.9L460 261.3L459.6 260.5L458.4 260.4L457.5 259.3L457.2 258.9L456.1 258L455.2 257.4L454.9 257.2L453.7 255.5L453.7 255.4L452.6 254.4L452.1 255.4L451.4 257L450.9 257.4L450.4 259.3L450.2 259.8L449.1 260.1L448.4 261.3L447.9 263.1L447.8 263.3L447.2 265.3L447.5 267.3L447.5 269.3L447 271.3L446.8 273.3L446.8 273.5L446.1 275.3L445.6 276.6L445.4 277.2L445.6 277.8L446.1 279.2L446.1 281.2L445.6 282.9L445.5 283.2L444.5 285.2L444.4 285.4L443.3 286.3L442.5 287.2L442.1 288L440.9 288.8L440.3 287.2L440.8 285.2L440.6 283.2L440.9 282.1L441.4 281.2L441.8 279.2L440.9 278.3L440 279.2L439.8 279.5L438.6 279.5L437.4 280.5L436.3 281L435.8 279.2L436.3 278.1L437 277.2L437.4 276.7L438.1 275.3L437.4 273.9L437.1 273.3L436.3 272.2L436 271.3L436.3 270.6L437.4 269.3L437.4 268.3L437.7 267.3L437.4 267.2L436.4 265.3L436.5 263.3L436.3 263L435.6 263.3L435.1 263.7L434.8 263.3L435.1 262.8L435.4 261.3L436.1 259.3L435.1 258.4L434 257.6L432.8 257.6L431.9 259.3L431.6 260.2L430.5 259.7L430.1 259.3L429.3 258.7L428.8 259.3L429.3 260.3L429.7 261.3L430.5 262.2L430.9 263.3L430.6 265.3L430.5 265.6L429.3 266.3L428.4 267.3L428.1 268.2L427.9 269.3L427 270.7L426.1 271.3L425.8 272L424.6 272.4L424.4 273.3L424.6 274.6L425.8 274.3L426.7 273.3L427 273L427.4 273.3L427.2 275.3L427 275.4L425.8 276L424.6 275.7L424.4 275.3L423.5 274.5L422.3 274.8L421.7 275.3L421.1 275.4L420 277.2L420 277.3L419.9 277.2L418.8 275.3L418.8 275.3L418.8 275.2L419.6 273.3L419.4 271.3L420 270.5L420.6 269.3L420 268.2L419.5 267.3L419.7 265.3L418.8 264.5L417.7 264.3L416.5 264.1L415.6 263.3L416.2 261.3L416.5 259.8L416.6 259.3L416.5 259.1L415.5 257.4L415.3 257.2L415.2 257.4L414.2 259L413 258.4L412.6 259.3L412.5 261.3L411.8 262.6L411.4 263.3L410.7 263.9L409.7 263.3L409.5 263.2L408.7 261.3L409.2 259.3L408.7 257.4L408.3 256.9L407.2 256.4L406.2 257.4L406 257.5L405.7 257.4L404.8 256.9L403.7 257.2L403.5 257.4L402.8 259.3L402.5 260.3L402 261.3L401.4 262.5L401.1 263.3L401.4 265L401.4 265.3L401.4 265.5L400.6 267.3L400.2 268.2L399.4 269.3L399 269.5L398.5 269.3L398.2 267.3L397.9 266.3L397.7 265.3L397.3 263.3L397.9 262.5L398.3 261.3L399 259.5L399.2 259.3L399 259L397.9 258.9L396.7 257.4L395.9 259.3L395.5 260.1L394.8 261.3L394.8 263.3L394.4 263.6L394.3 263.3L394.3 261.3L394.2 259.3L394.1 257.4L394.1 255.4L394.1 253.4L394.2 251.4L394 249.4L393.9 247.4L393.7 245.4L393.8 243.4L393.7 241.4L393.7 239.5L393.7 237.5L393.6 235.5L393.6 233.5L393.6 231.5L393.7 229.5L393.7 227.5L393.8 225.5L393.8 223.5L394.4 222.6L395.5 222.5L396.7 222.5L397.9 222.4L399 222.4L400.2 222.4L401.4 222.5L402.5 222.6L403.7 222.7L404.3 221.5L404.8 220.7L406 220.7L407.2 220.7L408.3 220.7L409.5 220.7L410.4 219.6L410.7 219.2L411.8 219.4L412.8 219.6L413 219.6L414.2 219.7L415.3 219.6L415.5 219.6L416.4 217.6L416.5 215.6L416.5 215.5L417.7 215.3L418.8 215.3L419.7 213.6L420 213.2L421.1 213L422.3 212.9L423.5 212.9L424.2 211.6L424.6 210.9L425.8 210.7L427 210.6L427.7 209.6L428.1 208.8L429.3 209L430.5 209.3L431.4 209.6L431.6 211.5L431.6 211.6L431.6 212L431.5 213.6L431.6 213.7L432.8 214.5L433.2 213.6L433.4 211.6L433.1 209.6L434 208.1L434.1 207.6L435.1 207.2L436 205.6L436.3 205.1L437.4 205.1L438.6 204.9L439.3 203.6L439.8 202.8L440.9 202.7L441.6 201.7L442.1 200.8L443 199.7L443.3 199.2L444.4 199.4L445.2 199.7L445.6 200.1L446.8 199.9L447.1 199.7L447.9 199L449.1 198.9L449.7 199.7L450.2 200.6L451.4 200L451.5 201.7L451.4 202.2L451 203.6L451.3 205.6L451.4 206.5L452.6 206.9L453.2 205.6L453.3 203.6L453.7 202.8L454.1 201.7L454.1 199.7L454.3 197.7L454.4 195.7L454.9 194.8L455.1 193.7L455.7 191.7L455.6 189.7L456.1 188.8L456.5 187.7L456.1 186.8L454.9 186.4L454.4 185.7L454.8 183.8L454.9 183.6L455.9 181.8L456.1 181.6L457.1 179.8L457.2 179.6L457.9 179.8L458.2 181.8L458.4 182.8L459.6 182.6L460.4 181.8L460.5 179.8L459.7 177.8L460.7 177.4L461.9 177.1L463.1 177.1L464.2 177.6L464.7 177.8L465.4 179.3L465.5 179.8L465.6 181.8L465.4 182.6L465 183.8L465.4 184.9L465.8 185.7L466 187.7L465.6 189.7L465.6 191.7L465.8 193.7L466 195.7L466.5 197.4L467.7 197.5L467.8 197.7L467.7 197.9L467 199.7L466.6 201.7L466.5 201.8L466.3 203.6L466.2 205.6L466.2 207.6L466.5 209.6L466.5 210.2L467.7 211.6L467.7 211.6L468.4 213.6L468.9 215.6L469.6 213.6L469.9 211.6L470 211.1L470.1 209.6L470 208.4L469.8 207.6L470 205.6L470 204.9L470.1 203.6L470.1 201.7L470.4 199.7L470.7 197.7L470.5 195.7L470.2 193.7L470.6 191.7L471 189.7L471 187.7L470.8 185.7L470.6 183.8L470.4 181.8L470.6 179.8L470.7 177.8L471.2 177.5L472.4 177.6L473.5 177.7L474.7 177.8L474.7 177.8L474.7 177.9L473.9 179.8L474.1 181.8L474.7 183L475.9 182.3L476.3 183.8L475.9 185.7L475.9 187.2L475.8 187.7L475.9 187.8L476.8 189.7L476.5 191.7L477 192.7L477.2 193.7L477 194.1L476.5 195.7L476.1 197.7L476.4 199.7L476.8 201.7L477 202.3L477.8 203.6L477.7 205.6L477.8 207.6L477.7 209.6L478 211.6L478.2 213.6L478.2 213.6L478.4 213.6L479.4 213.5L480.5 212L480.5 211.6L480.5 210.9L480.3 209.6L480.5 209.2L480.6 207.6L480.6 205.6L480.5 204.7L480 203.6L480.4 201.7L480.5 201.3L480.9 199.7L481 197.7L480.8 195.7L480.7 193.7L480.8 191.7L481 189.7L481.4 187.7L481.6 185.7L481.4 183.8L481.3 181.8L480.8 179.8L480.9 177.8L481.7 177.4L482.8 177.3L484 177.2L485 175.8L485.1 173.8L485.2 173.6L486.2 171.8L486 169.8L486 167.8L486.1 165.9ZM482.8 271.3L482.8 271.3L482.8 271.3L482.8 271.3ZM424.6 263.6L423.8 265.3L423.5 266.3L422.9 267.3L422.3 268.5L421.8 269.3L422.3 269.5L423.5 270.3L424.6 269.3L424.6 269.2L425.8 267.9L425.9 267.3L426.5 265.3L425.8 264.5ZM428.1 261.2L428.1 261.3L428.1 261.4L428.3 261.3ZM438.6 273L438.2 273.3L438.6 273.7L438.8 273.3ZM440.9 262.7L440.1 263.3L439.8 264.2L439.5 265.3L439.8 265.8L440.8 265.3L440.9 265.2L442.1 263.3ZM442.1 266.9L441.9 267.3L442.1 267.9L442.2 267.3ZM468.9 217.9L468.7 219.6L468.9 219.8L469 219.6ZM472.4 185.3L472.3 185.7L472.4 185.8L472.4 185.7ZM479.4 218.7L478.9 219.6L479.4 219.8L479.5 219.6ZM665.4 163.9L665.6 163.6L666.2 163.9L666.8 164.7L667.2 165.9L666.8 166.7L665.6 167.1L665.3 165.9ZM674.9 163.9L674.9 163.8L675 163.9L674.9 164.1ZM694.8 163.9L695.9 163.1L696.6 163.9L695.9 165.6L695.7 165.9L694.7 167.3L694.5 167.8L693.9 169.8L693.6 170.1L693.5 169.8L693.2 167.8L693.6 166.2L693.8 165.9L694.7 164.1ZM671.4 167.8L671.4 167.8L672.6 166.9L673 167.8L673.8 169.6L674.9 169.2L676.1 168.5L676.6 167.8L677.3 167.1L677.4 167.8L677.7 169.8L677.3 171L676.3 171.8L676.1 172.4L674.9 172.1L674.4 171.8L673.8 170.5L672.6 170.7L671.9 169.8L671.4 168.2ZM310.3 169.8L310.5 169.7L310.8 169.8L310.5 170ZM670.2 171.8L670.3 171.6L671.4 170.7L671.9 171.8L671.4 172.6L670.8 173.8L670.3 174.5L669.5 175.8L669.1 176.6L667.9 177.8L667.9 177.8L666.8 178.5L666.3 179.8L666.1 181.8L666.8 182.8L667.3 183.8L666.8 185.3L666.6 185.7L666.5 187.7L665.6 189.7L665.6 189.7L665.6 189.7L664.5 187.8L664.4 187.7L664.4 185.7L664.5 184.2L664.5 183.8L664.5 183.7L664.1 181.8L664.3 179.8L664.5 178.3L664.7 177.8L665.6 175.8L665.7 175.8L666.8 175.1L667.5 173.8L667.9 173.5L669.1 173.5ZM715.6 173.8L715.7 172.8L716.5 173.8L715.7 174.8ZM721.3 173.8L721.5 173.7L721.5 173.8L721.5 173.9ZM700.4 175.8L700.5 174.4L700.6 175.8L700.7 177.8L700.9 179.8L700.8 181.8L700.5 183.7L700.5 183.8L699.4 185.5L699.3 185.7L698.2 187.7L698.1 187.7L697.7 189.7L697.1 190.5L695.9 191.3L694.7 190.2L693.6 190L693.5 189.7L693.6 189.6L694.7 188.4L694.8 187.7L695.9 186L696.1 185.7L697.1 184L697.2 183.8L698.2 182.3L698.9 181.8L698.8 179.8L699.4 177.9L699.5 177.8ZM719.6 175.8L720.3 174.4L720.8 175.8L720.7 177.8L720.5 179.8L720.3 181L720.2 181.8L719.9 183.8L720.3 185.1L720.7 185.7L721.5 186.6L721.5 187.7L721.5 189.7L721.5 190.2L720.4 191.7L720.3 191.9L719.2 193.5L718.7 193.7L718 193.9L716.8 194.6L716.1 195.7L715.7 196.4L715.6 195.7L715.4 193.7L715.4 191.7L715.4 189.7L715.7 187.9L715.8 187.7L716.4 185.7L716.2 183.8L716.5 181.8L716.8 181L718 180.2L718.3 179.8L718.7 177.8L719.2 176.8ZM672.5 177.8L672.6 177.7L673.8 176.5L674.7 177.8L673.8 179.8L673.7 179.8L672.6 180.7L671.4 180.9L670.8 179.8L671.4 179.1ZM677.2 177.8L677.3 177.5L677.3 177.8L677.3 178ZM693.3 177.8L693.6 176L694.5 177.8L693.8 179.8L693.6 180.2L693.5 179.8ZM312.4 181.8L312.9 180.7L313.7 181.8L313.2 183.8L312.9 183.9L312.7 183.8ZM315.5 183.8L316.4 183.5L316.4 183.8L316.4 184.5ZM675.9 185.7L676.1 185.4L676.3 185.7L676.1 186.7ZM304.2 187.7L304.7 187.2L305.1 187.7L304.7 188.2ZM699.3 189.7L699.4 189.6L699.6 189.7L700.5 190.4L700.7 191.7L700.5 192.4L699.4 191.7L699.4 191.3ZM308.8 191.7L309.4 190.8L309.6 191.7L309.4 192.1ZM315 191.7L315.2 191.2L316.4 190.8L316.4 191.7L316.4 192.3L315.2 192.2ZM664.4 191.7L664.5 191.3L664.7 191.7L664.5 192.2ZM677.2 191.7L677.3 191.6L677.3 191.7L677.4 193.7L677.6 195.7L677.7 197.7L677.3 199.1L676.4 199.7L677.3 201.4L677.3 201.7L677.3 202.1L676.6 203.6L677.3 204.9L677.3 205.6L677.9 207.6L678.4 208.5L679.1 207.6L679.6 207.1L680.2 207.6L680.8 208.1L681.9 209L682.4 209.6L683.1 210.3L683.9 209.6L684.2 209.1L684.9 209.6L685.4 209.7L685.5 209.6L686.6 207.7L687.7 209.1L688.9 208.2L689.2 207.6L690.1 206.6L691.2 207.4L692.4 206.3L692.9 205.6L693.6 204.9L694.7 203.6L694.7 203.5L695.9 203.6L696.4 201.7L695.9 201.2L694.7 200.7L693.6 200.2L692.4 201.4L691.2 201.3L690.1 200.1L690 199.7L689.9 197.7L689.8 195.7L690.1 195.5L690.2 195.7L690.5 197.7L691.2 198.4L692.4 199.3L693.3 197.7L693.4 195.7L693.4 193.7L693.6 192.3L694.7 193.5L694.8 193.7L695.1 195.7L695.9 196.9L697.1 196.7L698.2 196.7L699.2 197.7L698.6 199.7L698.2 200.2L697.6 201.7L698.2 202.3L699.2 201.7L699.4 201.4L700.5 201.4L700.6 201.7L700.7 203.6L700.8 205.6L700.8 207.6L700.9 209.6L700.9 211.6L701.7 212.5L702.9 212.6L704 213L705.2 212.7L706.4 212.7L707.5 212.7L708.1 213.6L708.7 214.4L709.9 214.3L710.6 215.6L711 216.1L712.2 216.1L713 217.6L713.4 218.2L714.5 218.1L715 217.6L715.1 215.6L715.1 213.6L715.4 211.6L715.7 210.9L716.8 209.7L717 209.6L718 207.6L718 207.6L719.2 207.3L720.3 206.6L721.5 207.6L721.5 209.6L720.6 211.6L721.5 212.9L721.5 213.6L721.5 215.6L721.5 217.6L721.5 219.6L721.5 221.5L721.5 223.5L721.5 225.5L721.5 227.5L721.5 229.5L721.5 231.5L721.5 233.5L721.5 235.5L721.5 237.5L721.5 239.5L721.5 241.4L721.5 243.4L721.5 245.4L721.5 247.4L721.5 249.4L721.5 251.4L721.5 253.4L721.5 254.5L720.3 254.7L719.2 254.7L718.4 253.4L718 252.8L716.8 252.7L715.7 252.7L714.9 251.4L714.5 250.7L713.4 250.7L712.6 249.4L712.2 248.8L711 248.9L709.9 248.8L709 247.4L708.7 246.8L707.5 246.8L706.4 246.8L705.5 245.4L705.2 244.8L704 244.8L702.9 244.7L702.1 243.4L701.7 242.7L700.5 242.4L699.4 242.6L698.2 242.7L697.8 243.4L697.1 244.7L695.9 244.7L694.7 244.5L693.6 244.5L692.9 243.4L692.9 241.4L692.4 240.6L691.7 239.5L691.2 238.5L690.1 238.4L688.9 238.5L688.3 237.5L687.7 236.4L687.1 237.5L686.6 238.4L686 239.5L685.4 240.5L684.8 241.4L684.2 242.3L683.1 242.6L682.4 243.4L681.9 244.3L681.2 245.4L680.8 246.2L679.6 246.2L678.9 247.4L678.4 248.3L677.3 248.6L676.1 248.7L674.9 248.6L673.8 248.5L673.1 247.4L673.1 245.4L672.6 244.6L671.9 243.4L671.9 241.4L672 239.5L672 237.5L671.4 236.5L670.3 236.4L669.1 236.4L667.9 236.5L666.8 236.5L665.6 236.6L664.5 236.5L663.9 235.5L663.8 233.5L663.9 231.5L663.9 229.5L663.8 227.5L663.7 225.5L663.7 223.5L663.8 221.5L663.8 219.6L664 217.6L664.2 215.6L664.5 213.9L665.1 213.6L665.6 213.2L666.3 211.6L666.8 210.7L667.9 210.4L669.1 210L669.2 209.6L670.3 208.4L670.8 207.6L671.4 206.7L672.6 206.7L673.4 207.6L673.3 209.6L673.8 209.9L674.9 209.7L675.1 209.6L675.3 207.6L674.9 207.1L673.8 206.6L673.4 205.6L673.8 205.1L674.5 203.6L674.9 202.5L675.2 201.7L674.9 200.5L674.6 199.7L674.9 198.7L675.4 197.7L676.1 196.1L676.2 195.7L676.9 193.7ZM687.7 211.4L687.7 211.6L686.9 213.6L686.6 214.7L685.7 215.6L686.6 216.3L687.7 215.9L687.9 215.6L688.2 213.6L688.9 211.9L689 211.6L688.9 211.2ZM692.4 210.8L691.8 211.6L692.4 212.4L692.8 211.6ZM694.7 209.6L694.7 209.6L694.7 209.6L694.8 209.6ZM671.4 209.7L670.3 211.6L671.4 212.3L671.9 211.6ZM684 193.7L684.2 193.3L685.4 193.3L686.6 193.4L687.1 193.7L686.6 194.5L685.8 195.7L685.4 196.3L685 195.7L684.2 194.6ZM666.1 195.7L666.8 195.2L667.9 194.9L669.1 195.2L669.9 195.7L670.1 197.7L670.3 197.9L670.8 199.7L670.3 200.4L669.1 201.7L669.1 201.7L667.9 203.1L667.2 201.7L666.8 200.9L665.6 200.5L664.5 201.2L664.1 199.7L664.5 198.1L664.9 197.7L665.6 196.6ZM667.9 198.7L667.6 199.7L667.9 200.3L668.3 199.7ZM682.8 195.7L683.1 195.2L683.7 195.7L683.1 197.1ZM715.7 199.7L715.7 199.5L716.8 198.5L718 199.7L718 199.7L718.9 201.7L718.5 203.6L718 205.6L717.9 205.6L716.8 205.7L716.7 205.6L715.7 204.6L715.5 203.6L715.4 201.7ZM682.6 201.7L683.1 200.6L683.6 201.7L683.1 203.4ZM688.9 203.6L688.9 203.6L690.1 203.1L690.2 203.6L690.1 204L688.9 204.3ZM665.1 205.6L665.6 204.4L666.8 203.8L667.5 205.6L666.8 207L665.9 207.6L666.1 209.6L665.6 210.5L665 209.6L665 207.6ZM681.2 205.6L681.9 204.7L683.1 204.3L683.2 205.6L683.1 206.2L681.9 206.4ZM412.9 217.6L413 217.4L413.8 217.6L413 219.2ZM308.2 219.6L308.2 219.4L308.2 219.6L308.2 219.6ZM305.4 221.5L305.9 221.2L307 221.5L307.1 221.6L308.2 222.3L309.4 222L310.5 222.4L311.7 222L312.3 221.5L312.9 220.5L314 220.9L315.2 220.5L316.4 219.9L316.7 221.5L317.5 222.7L318.7 222.5L319.9 222.4L321 222.5L322.2 222.7L323.4 223.1L324.5 223.1L325.7 223.2L326.8 222.8L328 222.9L329.2 222.8L330.3 222.8L331.5 222.7L332.7 222.7L333.8 222.7L335 222.8L336.2 222.8L337.3 222.9L338.5 222.9L339.7 222.8L340.8 222.8L342 222.6L343.1 222.6L344.3 222.6L345.5 222.7L346 223.5L346.2 225.5L346.3 227.5L346.3 229.5L346.3 231.5L346.3 233.5L346.2 235.5L346.3 237.5L346.2 239.5L346.2 241.4L346.3 243.4L346.3 245.4L346.3 247.4L346.3 249.4L346.3 251.4L346.3 253.4L346.3 255.4L346.3 257.4L346.3 259.3L346.2 261.3L346.1 263.3L346.1 265.3L346 267.3L346 269.3L345.7 271.3L345.5 272.3L344.3 272L343.1 271.4L343 271.3L342 270.3L340.8 269.5L339.9 271.3L339.7 271.6L339.1 271.3L339.1 269.3L338.5 268.5L337.3 269.2L337.1 269.3L336.2 270.3L335 270.1L334.2 269.3L333.8 268.7L333.4 269.3L332.9 271.3L332.7 271.4L331.5 272.4L330.7 273.3L330.3 273.5L330.1 273.3L329.2 272.7L328 272.9L326.8 273.1L325.7 272.1L324.5 271.6L324.3 271.3L323.4 270L322.2 270.1L321.7 269.3L321 268.2L320.5 267.3L319.9 266.1L319.4 265.3L318.7 264.3L318.1 263.3L317.5 262.4L316.9 261.3L316.4 260.6L315.2 260.6L314 260.6L312.9 260.6L311.7 260.6L310.5 260.5L309.4 260.5L308.2 260.5L307.1 260.5L306.6 261.3L305.9 262.6L304.7 262.6L303.6 262.6L302.4 262.1L302.4 261.3L302.4 259.3L302.4 257.4L302.4 255.4L302.4 253.4L302.4 251.4L302.4 249.4L302.4 247.4L302.4 245.4L302.4 243.4L302.4 241.4L302.4 239.5L302.4 237.5L302.4 235.5L302.4 233.5L302.4 231.5L302.4 229.5L302.4 227.5L302.4 225.5L302.4 223.8L302.6 223.5L303.6 222.6L304.7 221.8ZM415.2 265.3L415.3 264.4L415.5 265.3L415.3 265.4ZM704.9 265.3L705.2 264.8L705.4 265.3L705.2 265.8ZM488.3 267.3L488.7 266.3L489.3 267.3L488.7 268.5ZM680.7 267.3L680.8 267.2L680.9 267.3L681.9 267.7L683.1 267.6L683.4 267.3L684.2 266.1L685.1 267.3L685.4 268L686 269.3L686.6 270.6L686.6 271.3L686.6 272.1L686.3 273.3L685.6 275.3L685.4 275.5L684.7 275.3L684.2 274.7L683.1 274.5L682.1 275.3L681.9 275.5L680.8 275.3L680.7 275.3L680.4 273.3L680.3 271.3L680.5 269.3ZM401.6 271.3L402.5 270L403.7 270.4L404.3 271.3L403.7 272.4L402.5 272.4L401.8 273.3L401.4 274L401 273.3L401.4 272ZM333.3 273.3L333.8 271.7L335 273.2L336.2 273.3L336.2 273.3L337 275.3L336.3 277.2L336.2 277.4L335 277.3L333.8 277.5L333.7 277.2L333.2 275.3ZM335 273.4L334.8 275.3L335 276.4L335.3 275.3ZM428.8 273.3L429.3 272.9L429.4 273.3L429.3 273.4ZM475.5 273.3L475.9 272.6L476.1 273.3L476 275.3L475.9 277L475.8 277.2L474.7 279L473.5 279.1L473.5 279.2L472.4 280.5L471.4 279.2L472.4 278.4L473.1 277.2L473.4 275.3L473.5 273.9L474.1 275.3L474.7 275.6L475.2 275.3ZM340.4 277.2L340.8 276.7L341.4 277.2L340.8 279.1ZM399 277.2L399 277.2L399 277.2L399 277.2ZM411.4 277.2L411.8 276.3L412.3 277.2L411.8 278.2ZM683.1 277.2L683.1 277.2L683.1 277.2L683.1 277.2ZM425.4 279.2L425.8 278.5L427 279.1L427 279.2L427.3 281.2L427.4 283.2L427 284.4L425.8 284L424.6 284.7L423.5 285.2L423.8 287.2L423.5 287.8L423 289.2L422.3 290.4L421.8 291.2L421.4 293.2L421.1 293.7L420 293.3L419.8 293.2L419.6 291.2L419.8 289.2L420 288.7L420.4 287.2L420 285.3L418.8 285.9L418.6 285.2L418.8 284L419.2 283.2L420 282.2L421.1 281.2L421.1 281.2L422.3 280.1L423.5 280.3L424.6 279.6ZM464.2 279.2L464.2 279.2L464.2 279.2L464.2 279.3ZM458.2 283.2L458.4 282.2L458.8 283.2L458.4 283.6ZM414.1 285.2L414.2 284.9L415.3 284L416 285.2L415.5 287.2L415.3 288L415 289.2L414.2 289.9L413.5 289.2L413 288.4L412.4 287.2L413 286.2ZM461.7 285.2L461.9 284.7L463.1 285.1L464.2 284.2L464.7 285.2L464.2 286.3L463.1 286L463 287.2L463.1 287.4L463.5 289.2L463.1 289.6L462 289.2L461.9 289.1L461.2 287.2ZM686.3 285.2L686.6 284.9L686.6 285.2L686.6 287.2L686.6 287.6L686.2 287.2ZM417.6 287.2L417.7 287.1L417.7 287.2L417.7 287.3ZM395 289.2L395.5 288.8L396.5 289.2L395.5 290.1ZM396.7 291.2L396.7 291L396.8 291.2L396.7 291.2ZM412.4 291.2L413 290.5L413.2 291.2L413 291.5ZM443.9 291.2L444.4 290.5L445.1 291.2L444.4 292.2ZM482.8 291.2L482.8 291.2L482.9 291.2L482.8 291.2ZM425.7 293.2L425.8 293.1L425.8 293.2L425.8 293.3ZM443.2 293.2L443.3 293L443.4 293.2L443.3 293.2ZM440.3 295.1L440.9 294.8L441.3 295.1L440.9 295.8ZM456 295.1L456.1 295L456.3 295.1L456.1 295.4ZM476.6 295.1L477 295L477.1 295.1L477 295.3ZM474.5 297.1L474.7 295.4L475.9 296.8L475.9 297.1L476.2 299.1L475.9 301.1L475.9 301.3L474.7 302.2L474 303.1L473.5 303.9L472.4 305.1L472.4 305.1L471.2 307.1L471.2 307.1L471.2 307.1L470.7 305.1L470.9 303.1L471.2 302.4L472.2 301.1L472.4 300.9L473.3 299.1L473.5 298.8ZM437.2 299.1L437.4 298.8L438.6 298.8L439.1 299.1L439.8 300L440.2 301.1L439.8 301.9L439.1 303.1L438.6 304.9L438.2 305.1L437.4 305.4L437.3 305.1L436.7 303.1L436.3 302.2L435.8 301.1L436.3 300.4ZM481.4 299.1L481.7 298.7L482.8 298.6L484 298.9L484.1 299.1L484 299.3L482.8 299.9L482.3 301.1L481.7 302.3L481.6 301.1ZM400.1 301.1L400.2 299.7L400.6 301.1L400.2 301.2ZM461.9 301.1L461.9 301.1L463.1 301L463.1 301.1L463.1 301.2L461.9 301.5ZM486.1 301.1L486.3 300.8L487.1 301.1L486.3 301.6ZM680.7 301.1L680.8 301L680.8 301.1L680.8 301.2ZM457.2 303.1L457.2 303L457.3 303.1L457.2 303.3ZM463.7 303.1L464.2 301.6L464.5 303.1L464.3 305.1L464.2 305.3L463.1 305.1L463 305.1L463.1 305ZM484.9 303.1L485.2 302.9L485.3 303.1L485.2 303.3ZM482.6 305.1L482.8 304L483 305.1L482.8 305.2ZM489.7 305.1L489.8 304.8L491 304.7L491.7 305.1L491.7 307.1L491 307.3L490.6 307.1L489.8 305.9ZM683.1 307.1L683.1 307L683.1 307.1L683.1 307.2ZM681.3 311.1L681.9 310.2L683.1 309.6L683.6 311.1L684.2 312.5L684.5 313L684.2 313.4L683.1 315L683.1 315.1L682.3 315L681.9 315L680.8 314.9L680.5 313L680.8 311.9ZM685.3 311.1L685.4 310.8L685.4 311.1L685.4 311.1ZM472.8 313L473.5 312.1L474.7 311.3L475.9 311.9L476.2 313L475.9 313.5L474.7 314.2L473.5 314.1L473 315L472.4 316L471.9 317L471.2 317.9L470.8 317L471 315L471.2 314.5L472.4 313.8ZM426.7 315L427 314.6L428.1 314.6L428.2 315L428.1 315.5L427 315.4ZM440.9 317L440.9 316.8L442.1 316.5L443.3 315.7L443.9 317L443.3 318.3L442.8 319L442.7 321L442.1 322.4L440.9 322.9L439.8 321.3L438.6 321.4L438.1 321L437.4 320.2L437.3 319L437.4 318.7L438.6 318.5L439.8 318.3ZM488.4 317L488.7 316.5L489 317L488.7 317.9ZM424.4 319L424.6 318.6L425.8 317.5L427 318.5L427.2 319L427 319.9L426.8 321L425.8 321.5L424.6 321.3L423.5 321.1L423.4 321L423.5 320.7ZM457 319L457.2 318.8L458.4 317.8L458.9 319L458.5 321L458.4 321.2L457.2 322.2L456.6 323L456.1 324.1L455.4 323L456.1 321.1L456.1 321ZM486.9 319L487.5 318.2L488.2 319L488.3 321L487.9 323L487.5 323.4L486.6 323L487.1 321ZM684.8 319L685.4 318.7L685.9 319L685.7 321L685.4 321.2L684.2 321.4L683.9 321L684.2 320ZM451 323L451.4 322.8L452 323L451.4 325L451.4 325L451.4 325ZM472 323L472.4 322.6L473.1 323L472.5 325L472.4 325.1L471.2 325.1L471.2 325L471.2 324.9ZM474.6 323L474.7 322.9L474.7 323L474.7 324ZM681.9 323L681.9 322.9L681.9 323L681.9 323Z"/>
<path fill="#300038" d="M409.6 142L410.7 141.1L411.8 141.7L412 142L413 144L413 144L413.7 146L414 148L414 149.9L413.9 151.9L413.7 153.9L413.5 155.9L413.3 157.9L413 159.9L413 159.9L412.7 161.9L412.2 163.9L411.8 165.1L410.9 165.9L410.7 166.1L410.6 165.9L409.6 163.9L409.5 163.7L409.1 161.9L408.8 159.9L408.5 157.9L408.3 156.4L408.3 155.9L407.9 153.9L407.5 151.9L407.2 149.9L407.2 148L407.6 146L408.3 144.3L408.5 144L409.5 142.1ZM718.7 181.8L719.2 181.3L719.3 181.8L719.2 182.2ZM717.8 183.8L718 183L718.2 183.8L718 184.2ZM486.4 189.7L487.5 189.3L488.7 189.1L489.3 189.7L488.7 190.4L487.5 191.6L487.5 191.7L486.9 193.7L486.3 194.6L485.2 194.4L484.2 193.7L484.8 191.7L485.2 191L486.3 189.7ZM460.2 191.7L460.7 191.5L461.2 191.7L461.9 192L462.2 191.7L463.1 191.2L463.6 191.7L464.2 192.5L464.7 193.7L464.5 195.7L464.9 197.7L465.4 199.1L465.5 199.7L465.4 201.7L465.5 203.6L465.4 205.3L465.4 205.6L465.4 206.9L465.4 207.6L465.7 209.6L465.8 211.6L466.3 213.6L466.3 215.6L466.4 217.6L466.5 219.6L466.5 219.9L467.3 221.5L467.7 222.5L468.6 223.5L468.6 225.5L468.9 225.9L469 225.5L469 223.5L469.5 221.5L470 220.5L470.3 219.6L470.7 217.6L470.9 215.6L470.9 213.6L471.2 212L472.4 212.3L473.5 213.1L474.6 211.6L474.7 211.1L475.9 210.9L476.1 211.6L477 213L477.1 213.6L477.3 215.6L477.6 217.6L477.5 219.6L477.9 221.5L478.2 223.3L479.4 222.1L479.7 221.5L480.5 220.5L480.7 219.6L481 217.6L480.9 215.6L481 213.6L481.2 211.6L481.4 209.6L481.4 207.6L481.5 205.6L481.6 203.6L481.6 201.7L481.7 201.2L482.8 200.3L483.4 199.7L484 198.5L485.2 198.1L485.6 197.7L486.3 196.8L487.5 196.1L488.7 195.7L488.8 195.7L489.8 195.2L489.9 195.7L490.5 197.7L491 198.7L491.6 199.7L492.2 200.5L492.3 201.7L492.2 203.6L492.3 205.6L492.2 207.6L492.3 209.6L492.3 211.6L492.4 213.6L492.4 215.6L492.4 217.6L492.6 219.6L492.8 221.5L492.8 223.5L492.9 225.5L492.9 227.5L492.9 229.5L492.8 231.5L492.8 233.5L492.7 235.5L492.6 237.5L492.6 239.5L492.6 241.4L492.6 243.4L492.6 245.4L492.4 247.4L492.2 249.4L492.2 249.7L491 251L490.6 251.4L489.8 253.4L488.7 252.2L488 251.4L487.5 250.6L487.2 251.4L486.3 252.6L486 253.4L485.3 255.4L485.2 255.6L484 256.7L482.8 256.5L481.8 255.4L481.7 255.1L481.5 253.4L481.5 251.4L481.3 249.4L481.1 247.4L480.5 245.7L480.1 245.4L480.1 243.4L480.5 241.4L480.4 239.5L480.5 238.2L480.5 237.5L480.5 237.2L480.1 235.5L479.9 233.5L480.5 231.6L480.5 231.5L480.5 231.5L479.4 230.5L478.2 231.1L478 231.5L477.8 233.5L477.6 235.5L477.7 237.5L477.7 239.5L477.6 241.4L478 243.4L478.1 245.4L477 247L476.7 247.4L476.2 249.4L475.9 250.6L474.7 250.6L473.6 251.4L473.5 251.4L472.7 251.4L472.4 251.3L472.3 251.4L471.2 252.2L471.1 251.4L470.9 249.4L470.9 247.4L470.6 245.4L470.4 243.4L470.3 241.4L470.1 239.5L470 237.9L469.9 237.5L469.7 235.5L469.9 233.5L470 231.5L468.9 230.4L467.7 231L467.2 231.5L466.5 233L466.5 233.5L466.3 235.5L466.3 237.5L466.3 239.5L466.4 241.4L466.3 243.4L466.2 245.4L465.7 247.4L465.4 249.4L465.4 249.6L464.5 251.4L464.2 253.4L464.2 253.4L464 253.4L463.1 253.1L462.8 253.4L461.9 254.1L460.7 254L459.6 254.1L458.4 253.8L457.2 253.7L456.4 253.4L456.1 253.2L455.3 251.4L455.4 249.4L455.4 247.4L454.9 247L453.7 246.7L452.6 246.2L451.4 246.7L450.2 247.4L450.2 247.4L449.1 248.9L447.9 248.3L447 249.4L446.8 249.6L445.6 250.2L444.4 251.1L443.9 251.4L443.3 251.9L442.1 252.6L440.9 253.2L439.8 251.9L438.6 252.6L437.5 253.4L437.4 253.4L436.3 253.5L435.1 253.4L435.1 253.4L434.7 251.4L434.3 249.4L434 248.1L433.6 247.4L432.8 247.2L432.1 247.4L431.6 247.9L430.9 249.4L430.5 250L429.3 251.4L429.3 251.4L428.1 252.8L427.7 253.4L427 254.3L425.8 254.9L424.6 254.2L423.7 255.4L423.5 255.7L423.1 255.4L423.4 253.4L422.3 252.3L421.1 251.5L420 251.6L419.4 251.4L419.1 249.4L418.8 248.7L417.7 249.1L416.8 247.4L416.5 247.1L415.5 247.4L415.3 247.6L414.2 248.4L413 248.6L411.8 248.7L410.7 247.9L409.6 249.4L409.5 249.5L408.3 250.2L407.2 250.5L406.9 249.4L406 247.9L404.8 248.1L404.6 247.4L403.7 246.7L402.5 247.3L402.2 247.4L401.4 248.1L400.4 249.4L400.2 250.3L399 250.4L397.9 249.7L397.7 249.4L397 247.4L396.7 247.2L395.5 247L394.4 247.3L394.1 245.4L394.1 243.4L394 241.4L394 239.5L393.9 237.5L393.9 235.5L393.9 233.5L393.9 231.5L394 229.5L394 227.5L394.2 225.5L394.2 223.5L394.4 223.3L395.5 223.2L396.7 223.1L397.9 223L399 222.9L400.2 223L401.4 223.1L402.5 223.3L403.7 223.4L404.7 223.5L404.8 223.8L406 223.6L406.1 223.5L406 223.3L404.8 223.4L404.7 221.5L404.8 221.4L406 221.4L407.2 221.5L408.3 221.5L409.5 221.4L410.7 220.9L411.8 221.4L412.5 221.5L413 221.7L414.2 222.2L415.3 222.2L416 221.5L416.5 221.2L417.7 220.2L418.8 220.1L419.5 219.6L420 218.8L420.8 217.6L421.1 216.5L422.3 215.7L422.4 215.6L423.5 214L424.6 213.6L424.6 213.6L425.3 211.6L425.8 211.5L427 211.3L428.1 209.6L428.1 209.6L428.3 209.6L428.5 211.6L428.1 213.4L428.1 213.6L428.1 213.7L429.2 215.6L429.3 215.6L430.5 216.9L431.1 217.6L431.6 218.4L432.1 219.6L432.8 220.3L434 220.4L434.9 219.6L435.1 218.8L436 217.6L435.9 215.6L436.1 213.6L436.3 212.4L436.4 211.6L437.2 209.6L437.4 208.8L437.8 207.6L438.6 205.6L438.6 205.6L439.7 203.6L439.8 203.6L440.9 203.3L442 201.7L442.1 201.5L442.6 201.7L443.3 202.3L444.4 202.4L445.3 203.6L445.4 205.6L445.6 206.2L446.8 206.6L447.9 207.1L448 207.6L447.9 208L447.7 209.6L447.9 210.7L448.1 211.6L448.6 213.6L448.7 215.6L449.1 216.2L450.2 217.1L450.9 217.6L451.1 219.6L451.4 219.7L452.6 219.7L452.9 219.6L453.7 217.7L453.8 217.6L453.9 215.6L454.2 213.6L454.4 211.6L454.9 209.9L455 209.6L455 207.6L455.7 205.6L455.4 203.6L456.1 201.9L456.2 201.7L456.5 199.7L457.2 198.6L457.7 197.7L458 195.7L458.4 194.5L458.7 193.7L459.6 192.4ZM483.9 195.7L484 195.1L484.1 195.7L484 195.9ZM471.8 203.6L472.4 202.8L473.5 202.4L474.5 203.6L474.3 205.6L473.5 206.6L472.9 207.6L472.4 208.3L471.9 207.6L471.2 206.5L471.1 205.6L471.2 204.7ZM474.3 207.6L474.7 206.7L475.9 206.3L476.1 207.6L475.9 208.3L474.7 208.2ZM471.1 209.6L471.2 208.7L471.7 209.6L471.2 210.8ZM674.6 211.6L674.9 211.3L675.5 211.6L676.1 213.3L676.5 213.6L677.3 214L678.4 213.6L678.4 213.6L679.6 212.1L680.5 213.6L680.8 213.8L681.9 214.8L683.1 213.6L683.1 213.6L684.2 212.8L684.8 213.6L684.2 214.7L683.7 215.6L683.8 217.6L684.2 218.8L685.4 218.9L686.6 219.4L687.7 218.8L688.9 218.3L690.1 217.7L690.1 217.6L691.2 216.8L692.4 217.3L693.6 216.5L693.8 215.6L694.7 214L695.1 213.6L695.9 212.7L696.4 211.6L697.1 210.4L698.2 211L699.4 211L699.9 211.6L700.5 212.6L701.7 213.1L702.9 213.3L703.6 213.6L704 214.7L704.5 213.6L705.2 213.3L706.4 213.4L707.5 213.3L707.7 213.6L708.7 215L709.9 214.8L710.3 215.6L711 216.4L712.2 216.5L712.8 217.6L713.4 218.7L714.5 218.5L715.3 217.6L715.4 215.6L715.4 213.6L715.7 212.3L716.5 211.6L716.8 211.3L717.9 211.6L717.9 213.6L718 213.8L718.2 213.6L718.2 211.6L719.2 211.3L719.3 211.6L719.9 213.6L720.3 213.9L721.5 214.4L721.5 215.6L721.5 217.6L721.5 219.6L721.5 221.5L721.5 223.5L721.5 225.5L721.5 227.5L721.5 229.5L721.5 231.5L721.5 233.5L721.5 235.5L721.5 237.5L721.5 239.5L721.5 241.4L721.5 243.4L721.5 245.4L721.5 247.4L721.5 249.4L721.5 251.4L721.5 253.4L721.5 254L720.3 254.3L719.2 254.2L718.7 253.4L718 252.4L716.8 252.3L715.7 252.3L715.2 251.4L714.5 250.2L713.4 250.3L712.8 249.4L712.2 248.4L711 248.5L709.9 248.5L709.2 247.4L708.7 246.5L707.5 246.4L706.4 246.4L705.8 245.4L705.2 244.4L704 244.4L702.9 244.2L702.4 243.4L701.7 242.3L700.5 241.8L699.4 242L698.2 242.2L697.6 243.4L697.1 244.3L695.9 244.3L694.7 243.9L693.6 244L693.2 243.4L693.2 241.4L692.4 240L692.1 239.5L691.2 237.9L690.1 237.7L688.9 237.8L688.7 237.5L687.7 235.7L686.8 237.5L686.6 237.8L685.7 239.5L685.4 239.9L684.4 241.4L684.2 241.6L683.1 242.1L682 243.4L681.9 243.6L680.8 244.8L679.6 245.4L679.6 245.4L678.5 247.4L678.4 247.6L677.3 248L676.1 248.2L674.9 248L673.8 248L673.4 247.4L673.4 245.4L672.6 244.1L672.2 243.4L672.2 241.4L672.4 239.5L672.4 237.5L671.4 235.9L670.3 235.8L669.1 235.7L667.9 235.8L666.8 236L665.6 236.1L664.5 235.8L664.2 235.5L664.2 233.5L664.3 231.5L664.3 229.5L664.2 227.5L664 225.5L663.9 223.5L664.1 221.5L664.2 219.6L664.4 217.6L664.5 217.2L665.6 216.8L666.8 216.3L667.9 215.6L667.9 215.5L668 215.6L669.1 217.1L669.6 215.6L670.3 214.6L671.4 213.6L671.4 213.6L672.6 212.1L673.8 212.3ZM674.9 214.3L674.5 215.6L673.8 216.6L673 217.6L673.8 218.7L674.9 217.6L674.9 217.6L675.4 215.6ZM692.4 219.2L692.3 219.6L691.2 221.3L691.1 221.5L691.2 221.7L692.4 221.7L692.5 221.5L692.4 219.6ZM672.6 219.2L672.5 219.6L672.4 221.5L672.6 221.8L672.8 221.5L672.7 219.6ZM685.4 211.6L685.4 211.6L685.4 211.6L685.4 211.6ZM690 215.6L690.1 215.5L690.1 215.6L690.1 216.4ZM303.7 223.5L304.7 222.8L305.9 222.7L306.8 223.5L307.1 223.9L308.2 223.9L309.4 223.8L310.5 223.6L310.7 223.5L311.7 223.1L312.4 223.5L312.9 224L314 223.7L314.3 223.5L315.2 222.4L316.4 222.7L317.5 223.4L318.7 223.1L319.9 223L321 223.2L322.2 223.4L322.5 223.5L323.4 224.5L324.5 224.8L325.7 225.2L326.8 223.5L326.8 223.5L326.9 223.5L328 223.8L329.2 223.7L330.3 223.8L330.9 223.5L331.5 223.4L332.7 223.5L333.8 223.4L334.9 223.5L335 223.6L336.2 223.6L337.3 223.9L338.5 224.1L339.7 223.6L340.8 223.7L341.1 223.5L342 223.3L343.1 223.4L344.3 223.2L345.5 223.4L345.5 223.5L346 225.5L346.1 227.5L346.1 229.5L346.1 231.5L346.1 233.5L346 235.5L346 237.5L345.9 239.5L345.9 241.4L346 243.4L346.1 245.4L346 247.4L346.1 249.4L346 251.4L346.1 253.4L346.1 255.4L346.1 257.4L346.1 259.3L345.9 261.3L345.8 263.3L345.8 265.3L345.6 267.3L345.6 269.3L345.5 269.8L344.4 269.3L344.3 269.2L343.1 267.7L342 267.8L340.8 267.5L340.5 267.3L339.7 266.6L338.5 266.9L338.1 267.3L337.3 267.9L336.2 268.2L335 267.5L334.9 267.3L335 266.7L335.4 265.3L335 265L334.7 265.3L333.8 266.3L332.7 267.1L332.3 267.3L331.5 268.5L330.3 268.7L329.2 268.5L328.7 269.3L328 269.9L326.8 270L326.4 269.3L326.5 267.3L325.7 266.9L325.2 267.3L324.5 267.9L323.4 268.8L322.6 269.3L322.2 269.4L322.1 269.3L321 267.5L320.9 267.3L319.9 265.4L319.8 265.3L318.7 263.7L318.5 263.3L317.5 261.8L317.2 261.3L316.4 260.1L315.2 260.2L314 260.2L312.9 260.2L311.7 260.1L310.5 260L309.4 259.9L308.2 260L307.1 260L306.4 261.3L305.9 262.2L304.7 262.1L303.6 262.1L302.4 261.4L302.4 261.3L302.4 259.3L302.4 258L302.5 257.4L302.4 256.2L302.4 255.4L302.4 253.4L302.4 251.4L302.4 249.4L302.4 247.4L302.4 245.4L302.4 243.4L302.4 241.4L302.4 241.1L302.6 239.5L302.4 238L302.4 237.5L302.4 235.5L302.4 233.5L302.4 231.5L302.4 229.5L302.4 227.5L302.4 225.5L302.4 225.4L303.6 223.7ZM405.7 251.4L406 251L406.6 251.4L406 251.6ZM487.2 257.4L487.5 257L487.9 257.4L487.5 257.8ZM486 259.3L486.3 258.3L486.9 259.3L486.3 259.8ZM325.5 271.3L325.7 270.8L326 271.3L325.7 271.4ZM459.4 271.3L459.6 271.2L459.6 271.3L459.6 271.3ZM680.7 271.3L680.8 271.2L681.9 271.2L682 271.3L681.9 271.4L680.8 271.5Z"/>
<path fill="#37004a" d="M410.7 142L410.7 142L410.7 142L411.8 142.5L412.7 144L413 145L413.3 146L413.8 148L413.8 149.9L413.6 151.9L413.4 153.9L413.1 155.9L413 156.6L412.8 157.9L412.5 159.9L412.1 161.9L411.8 162.8L410.7 163.9L410.7 163.9L410.7 163.9L409.8 161.9L409.5 161.1L409.2 159.9L408.9 157.9L408.6 155.9L408.3 154.2L408.3 153.9L407.6 151.9L407.2 149.9L407.3 148L407.8 146L408.3 144.8L408.8 144L409.5 142.7ZM486.3 199.7L486.3 199.6L487.5 199.6L487.6 199.7L488.4 201.7L488.7 202L489.8 202.5L490.2 203.6L490.1 205.6L489.8 206.9L489.7 207.6L489.8 208.4L490.4 209.6L491 210.3L491.4 211.6L491.8 213.6L491.9 215.6L491.9 217.6L492.2 218.1L492.3 219.6L492.6 221.5L492.6 223.5L492.7 225.5L492.7 227.5L492.7 229.5L492.5 231.5L492.5 233.5L492.4 235.5L492.3 237.5L492.3 239.5L492.3 241.4L492.3 243.4L492.3 245.4L492.2 246.6L491 246.9L489.8 246.9L488.7 247L487.5 247L486.3 247.2L485.2 246.7L484 246.4L482.8 246.6L481.7 246.9L481.1 245.4L481 243.4L481 241.4L481 239.5L481 237.5L480.9 235.5L480.8 233.5L481 231.5L480.5 229.5L480.6 227.5L480.6 225.5L480.6 223.5L480.7 221.5L481.1 219.6L481.5 217.6L481.5 215.6L481.6 213.6L481.7 213.1L482.3 211.6L482.5 209.6L482.6 207.6L482.8 206.8L483.2 205.6L483.8 203.6L484 203.4L485.1 201.7L485.2 201.4ZM460.4 201.7L460.7 200.8L461.9 201.6L461.9 201.7L463.1 203.3L463.3 203.6L464.2 204.4L464.5 205.6L464.3 207.6L464.4 209.6L464.8 211.6L465.3 213.6L465.4 213.9L465.7 215.6L465.8 217.6L465.8 219.6L466.2 221.5L466.4 223.5L466.3 225.5L466.5 227.5L466.5 229L466.9 229.5L466.5 229.7L466.2 231.5L466 233.5L465.9 235.5L465.8 237.5L465.8 239.5L465.8 241.4L465.7 243.4L465.5 245.4L465.4 245.9L464.2 247.2L463.4 247.4L463.1 247.6L461.9 249.1L460.7 249.2L459.8 247.4L459.6 247.2L458.4 247.3L457.2 246.3L456.1 245.4L456.1 245.4L455.3 243.4L454.9 243.1L453.9 241.4L453.7 240.9L453.4 239.5L452.6 237.6L451.4 237.8L450.6 239.5L450.3 241.4L450.2 241.6L449.2 243.4L449.1 243.6L447.9 245.3L447.9 245.4L446.8 246.5L445.6 246.6L444.8 247.4L444.4 248L443.3 247.9L442.8 247.4L442.1 247.2L440.9 247.1L439.8 247.2L439.2 247.4L438.6 248.4L437.8 247.4L437.4 247.3L436.3 247.2L435.1 246.5L434.4 245.4L434 243.4L434 243.3L432.8 242.4L432.2 243.4L431.6 244.9L431.3 245.4L430.5 246.2L429.3 247.2L428.7 247.4L428.1 248.4L427 249.1L425.8 248L425.3 247.4L424.6 247.1L423.5 246.8L422.3 246.9L421.1 247.1L420 246.5L418.8 245.8L417.7 245.8L416.9 245.4L416.5 244.2L415.3 244.1L415 243.4L415.3 243.1L416.5 242.8L416.8 241.4L416.5 239.5L416.5 237.5L416.7 235.5L416.5 235.1L416.3 235.5L415.3 236.6L415 237.5L414.2 239.1L413.9 239.5L413.8 241.4L413 242.8L412.3 243.4L411.8 245.1L411.6 245.4L410.7 245.6L409.5 245.9L408.3 245.8L407.7 245.4L407.2 244.6L406.5 243.4L407 241.4L407.1 239.5L406 238.1L404.8 238.6L403.7 237.9L403.5 239.5L402.5 241.1L402.4 241.4L401.4 242.9L400.7 243.4L400.2 245.1L399.9 245.4L399 245.7L398.5 245.4L397.9 244.4L397.5 243.4L397.2 241.4L396.7 240.7L395.5 241.1L395.3 241.4L394.4 242.2L394.3 241.4L394.2 239.5L394.2 237.5L394.2 235.5L394.2 233.5L394.2 231.5L394.3 229.5L394.4 227.5L394.4 227.3L395.5 226.4L396.3 227.5L396.7 227.9L397.1 227.5L397 225.5L397.9 223.9L398.1 223.5L399 223.4L399.8 223.5L400.2 224.6L400.5 225.5L401 227.5L401.4 228.5L402.5 228.8L403 229.5L403.1 231.5L402.5 232.8L401.4 233L401 233.5L401.4 233.8L402.5 233.7L403.2 235.5L403.7 237.2L404.3 235.5L404.8 234.5L405.3 233.5L405.3 231.5L404.8 231.1L404.1 229.5L404.8 228.1L405.1 227.5L406 226.1L406.9 225.5L407.2 225.4L408.3 224.7L409.5 223.8L410.7 224L411.8 224.5L413 225.5L414.2 225.3L415.3 225.4L416.5 224.8L417.7 224.6L418 223.5L418.8 222.2L419 221.5L420 220.5L421.1 219.8L421.6 219.6L422.3 218.6L423.5 217.9L424 217.6L424.6 217L425.8 217.4L427 216.6L428.1 217.2L428.9 217.6L429.3 217.9L429.7 219.6L430.5 220.2L431.6 221.1L431.9 221.5L432.8 222.6L434 222L434.3 221.5L435.1 220.8L436.1 219.6L436.3 219.2L437 217.6L437.4 216.1L437.7 215.6L437.5 213.6L438.6 212.1L438.9 211.6L439.4 209.6L439.8 208.9L440.6 207.6L440.9 207L442.1 206L443.3 207.2L443.3 207.6L444.4 208.9L445.5 209.6L445.6 209.7L446.1 211.6L446.6 213.6L446.8 214L447.1 215.6L447.4 217.6L447.9 218.7L448.3 219.6L449.1 220.5L450.2 221.2L451.4 221.3L452.4 221.5L452.6 221.8L452.7 221.5L453.7 221.1L454.9 220.1L455.6 219.6L456.1 217.8L456.1 217.6L456.7 215.6L456.7 213.6L457.2 212.1L457.4 211.6L457.2 211.2L456.9 209.6L457.2 207.7L457.3 207.6L458.4 205.9L458.5 205.6L459 203.6L459.6 202.5ZM415.3 227L415.2 227.5L414.2 229.5L415.3 230.8L416.2 229.5L416.5 227.5ZM475.8 215.6L475.9 215.5L475.9 215.6L476 217.6L476.7 219.6L477 220.5L477.3 221.5L477.4 223.5L477.8 225.5L478 227.5L478.2 229.5L477.5 231.5L477.2 233.5L477 234.9L476.9 235.5L476.7 237.5L476.7 239.5L476.6 241.4L477 243.4L477 244.5L477 245.4L477 245.4L475.9 246.6L474.7 247.2L473.5 247.1L472.4 246.4L471.2 246L471.1 245.4L471.1 243.4L470.9 241.4L470.6 239.5L470.5 237.5L470.5 235.5L470.5 233.5L470.5 231.5L470 229.7L469.8 229.5L470 228.7L470.1 227.5L470.1 225.5L470.2 223.5L470.4 221.5L471.2 219.6L471.2 219.4L472.4 218.3L473.5 218L474.3 217.6L474.7 217.1ZM680.4 215.6L680.8 215.5L680.8 215.6L680.8 216.1ZM695.2 215.6L695.9 214.7L697.1 213.7L698.2 214.4L699.4 215.5L699.4 215.6L700.4 217.6L700.5 217.9L700.7 217.6L701.6 215.6L701.7 215.1L701.9 215.6L702.9 217.2L704 217L705.2 215.8L706.4 215.6L707.5 216.6L708.4 215.6L708.7 215.5L709.9 215.2L710.1 215.6L711 216.7L712.2 216.9L712.6 217.6L713.4 219.1L714.5 218.8L715.6 217.6L715.7 216.5L716.8 216.4L718 215.8L719.2 216.1L720.3 215.6L720.3 215.6L720.4 215.6L721.5 216.5L721.5 217.6L721.5 219.6L721.5 221.5L721.5 221.9L721.3 223.5L721.4 225.5L721.5 225.8L721.5 227.5L721.5 229.5L721.5 231.5L721.5 233.5L721.5 235.5L721.5 236.3L721.2 237.5L721.3 239.5L721.4 241.4L721.5 243L721.5 243.4L721.5 243.8L721.4 245.4L721.5 246.2L721.5 247.4L721.5 249.4L721.5 251.4L721.5 253.4L721.5 253.5L720.3 253.8L719.2 253.8L718.9 253.4L718 252L716.8 251.8L715.7 251.8L715.4 251.4L714.5 249.8L713.4 249.9L713 249.4L712.2 248L711 248.2L709.9 248.1L709.4 247.4L708.7 246.1L707.5 246.1L706.4 246.1L706 245.4L705.2 244L704 244L702.9 243.8L702.7 243.4L701.7 241.8L701 241.4L700.6 239.5L700.5 239.3L700.4 239.5L699.4 241.4L699.4 241.4L698.2 241.7L697.1 241.4L697.1 240.9L696.5 239.5L695.9 238.9L694.8 239.5L694.7 239.5L693.6 241.4L693.6 242L693.6 241.4L692.5 239.5L692.5 237.5L692.7 235.5L692.9 233.5L693.6 232.4L694 231.5L694.4 229.5L694.7 229.1L695.4 227.5L695.9 226.4L697.1 226.3L697.3 225.5L697.3 223.5L697.1 222.5L695.9 223.5L695.9 223.6L695.9 223.5L694.7 223L693.8 223.5L693.6 224L692.4 223.6L692.4 223.5L692.4 223.5L693.6 223.2L694 221.5L694.5 219.6L694.7 219.1L695.4 217.6ZM678.1 217.6L678.4 217L679.3 217.6L679.6 217.9L680.4 219.6L680.6 221.5L680.8 222.1L681.1 221.5L681.9 221.1L683.1 220.2L683.9 221.5L684.2 221.9L684.9 221.5L685.4 221.4L685.8 221.5L686.6 222.4L687.2 221.5L687.7 221.3L688 221.5L687.9 223.5L688.9 225.5L690.1 224.6L691.2 224.6L692 225.5L692.2 227.5L691.2 228.9L690.9 229.5L690.1 230.9L688.9 231.5L688.9 231.5L688.9 231.5L688.9 231.5L689.1 229.5L688.9 228.9L688.3 227.5L687.7 226L686.6 226.7L686.1 225.5L685.4 223.6L684.2 224.5L683.1 225.2L681.9 225.3L680.8 224.2L679.6 225.5L679.6 225.6L678.6 227.5L679.6 228.7L680.3 229.5L679.6 230.5L678.4 230.9L678 231.5L678.4 233.1L678.5 233.5L678.4 233.9L677.9 235.5L678.4 236.3L678.7 237.5L679.1 239.5L679.6 240.1L680 239.5L680.8 239L681.9 238.7L683.1 238.6L683.6 237.5L684.2 236.7L685.4 236.1L685.9 237.5L685.4 238.8L684.2 238.7L683.7 239.5L683.3 241.4L683.1 241.5L682.5 241.4L681.9 240.5L681.7 241.4L680.8 242.1L679.9 243.4L679.6 243.8L678.5 245.4L678.4 245.7L677.5 247.4L677.3 247.5L676.1 247.7L674.9 247.5L673.8 247.4L673.8 247.4L673.8 245.4L672.6 243.6L672.5 243.4L672.5 241.4L672.6 240.5L673.3 239.5L673.8 238.8L674.6 237.5L674.9 237L675.8 235.5L676 233.5L675.8 231.5L675.3 229.5L674.9 228.4L674.6 229.5L673.8 231L673 231.5L672.6 231.9L672.1 231.5L671.8 229.5L672.1 227.5L672.6 226.8L673.8 225.8L674.9 226.7L675.4 225.5L674.9 224.8L673.8 225L673.5 223.5L673.8 223.1L674.9 222.5L675.3 221.5L675.6 219.6L676.1 218.2L677.3 218.4ZM674.9 243.4L674.8 243.4L674.9 243.5L675 243.4ZM665 219.6L665.6 219L666.8 218.9L667.9 219L668.3 219.6L668.2 221.5L668.6 223.5L667.9 225L666.8 225.4L666.7 225.5L665.7 227.5L665.6 227.5L665.6 227.5L664.5 227L664.3 225.5L664.2 223.5L664.4 221.5L664.5 220.4ZM303.4 225.5L303.6 225.3L304.7 224.1L305.9 224.3L306.8 225.5L307.1 225.7L307.4 225.5L308.2 225.2L309.4 225L310.5 224.5L311.7 224.5L312.9 225.4L314 225.4L315.2 224.7L316.4 225L317.5 224.5L318.7 224.1L319.9 223.6L321 224L322.2 225.1L322.6 225.5L323.4 226.5L324.5 226.9L325.7 226.9L326.8 226L327.6 225.5L328 225.2L329.2 225.2L330.3 225.1L331.5 225.1L332.7 225.1L333 225.5L333.8 227L335 226.3L336.2 225.9L336.9 225.5L337.3 225.4L337.6 225.5L338.5 226L338.8 225.5L339.7 225L340.8 225.1L342 225.5L343.1 224.8L344.3 224.5L345.5 224.5L345.7 225.5L345.9 227.5L345.9 229.5L345.8 231.5L345.9 233.5L345.7 235.5L345.8 237.5L345.6 239.5L345.7 241.4L345.8 243.4L345.9 245.4L345.8 247.4L345.8 249.4L345.8 251.4L345.9 253.4L345.9 255.4L345.9 257.4L345.8 259.3L345.7 261.3L345.5 263.3L345.5 263.6L345 265.3L344.3 265.7L343.9 265.3L343.3 263.3L343.1 263.2L342.4 261.3L342 260.9L341.3 261.3L340.8 262.1L339.7 262.5L338.6 261.3L338.5 261.2L337.3 260.4L337.2 261.3L336.2 262.5L335.3 263.3L335 263.7L333.8 264.7L333 265.3L332.7 265.5L331.5 266.1L331.1 265.3L330.9 263.3L330.9 261.3L330.3 261.1L330 261.3L329.2 262.1L328 263L327.7 263.3L326.8 264.6L326 265.3L325.7 265.5L324.5 266L323.4 265.9L323.1 265.3L322.4 263.3L322.2 262.9L321 261.9L319.9 262L318.7 261.8L318.2 261.3L317.5 261.1L316.4 259.7L315.2 259.8L314 259.7L312.9 259.8L311.7 259.7L310.5 259.5L309.4 259.4L308.2 259.5L307.1 259.5L306.1 261.3L305.9 261.7L304.7 261.6L303.6 261.6L303.1 261.3L302.9 259.3L303.2 257.4L303 255.4L303.1 253.4L302.5 251.4L302.6 249.4L302.6 247.4L303 245.4L302.7 243.4L303.1 241.4L303.1 239.5L303.1 237.5L303 235.5L302.7 233.5L302.8 231.5L303 229.5L302.8 227.5ZM310.5 256.8L310.2 257.4L310.5 258.2L310.8 257.4ZM312.9 252.1L312.6 253.4L312.9 253.8L313.4 253.4ZM324.5 231.2L324.4 231.5L324.5 232.1L325.5 231.5ZM338.5 257L338.4 257.4L338.5 257.8L338.8 257.4ZM342 253.4L342 253.4L342 253.4L342 253.4ZM685 227.5L685.4 226.7L686.1 227.5L685.4 228.1ZM692.9 227.5L693.6 226.6L694.1 227.5L693.6 228.5ZM689.6 233.5L690.1 232.4L690.3 233.5L690.1 234.8ZM665.2 235.5L665.6 235.1L666.2 235.5L665.6 235.6ZM682.6 235.5L683.1 234.1L683.6 235.5L683.1 236.6ZM694.8 243.4L695.9 241.9L697.1 241.5L697.3 243.4L697.1 243.8L695.9 243.9ZM413.7 245.4L414.2 244.7L414.6 245.4L414.2 245.6ZM338.2 265.3L338.5 264.6L338.6 265.3L338.5 265.4Z"/>
<path fill="#3e005c" d="M409.1 144L409.5 143.3L410.7 142.4L411.8 143.1L412.3 144L413 146L413 146L413.6 148L413.7 149.9L413.4 151.9L413.1 153.9L413 154.3L412.8 155.9L412.5 157.9L412 159.9L411.8 160.7L410.8 161.9L410.7 162L410.6 161.9L409.8 159.9L409.5 159L409.3 157.9L408.8 155.9L408.5 153.9L408.3 153.4L407.8 151.9L407.3 149.9L407.3 148L408.1 146L408.3 145.4ZM487.3 205.6L487.5 205.6L487.5 205.6L487.5 207.1ZM461.5 207.6L461.9 207L462.1 207.6L461.9 208.2ZM485.8 209.6L486.3 208.5L486.9 209.6L486.3 211.1ZM461.4 211.6L461.9 211L462.4 211.6L463.1 213.3L463.1 213.6L464.2 215L464.5 215.6L464.9 217.6L465.1 219.6L465.4 220.1L465.8 221.5L466 223.5L466 225.5L466.1 227.5L466.2 229.5L465.7 231.5L465.5 233.5L465.5 235.5L465.4 236.6L465.3 237.5L465.1 239.5L465 241.4L464.8 243.4L464.2 245.4L464.2 245.4L463.1 246.1L461.9 246.2L460.7 245.9L460.2 245.4L459.6 244.3L458.4 243.8L458.1 243.4L457.2 242.4L456.4 241.4L456.1 240.9L455.3 239.5L454.9 238.4L454.7 237.5L454.8 235.5L454.6 233.5L454.9 232.4L455.1 231.5L454.9 231.3L453.7 230.3L452.6 229.8L451.4 230.3L450.2 230L449.1 230.6L448.1 231.5L448.3 233.5L448.1 235.5L447.9 236.5L447.8 237.5L447 239.5L446.8 240.1L446.1 241.4L445.6 242.7L445.3 243.4L444.5 245.4L444.4 245.5L443.3 245.6L442.1 246L440.9 245.9L439.8 246.1L438.6 245.9L437.4 245.9L436.8 245.4L436.3 244L436 243.4L435.5 241.4L435.1 241.2L434.5 239.5L434.2 237.5L434 235.5L434 235.5L432.8 235L432.7 235.5L432.4 237.5L432 239.5L431.6 240.3L430.5 241.1L430.1 241.4L429.3 243L428.8 243.4L428.1 244.8L428 245.4L427 245.9L425.8 245.6L424.6 245.6L423.5 245.4L422.3 245.6L421.6 245.4L421.3 243.4L421.1 243.2L420 242.4L419.1 241.4L419 239.5L418.9 237.5L418.8 236.7L418.7 235.5L418.8 233.5L418.1 231.5L417.9 229.5L418.3 227.5L418.8 225.7L418.9 225.5L419.7 223.5L420 222.2L420.1 221.5L421.1 221L422.3 220.4L423.5 219.9L424.3 219.6L424.6 219.2L425.8 218.9L427 218.5L427.8 219.6L428.1 219.9L429.3 221L430.3 221.5L430.5 221.7L431.4 223.5L431.6 224L432.5 225.5L432.8 226L433.4 225.5L434 224.5L434.2 223.5L435.1 222.5L435.6 221.5L436.3 220.6L437 219.6L437.4 218.6L437.9 217.6L438.6 215.9L438.9 215.6L439.8 214L440.3 213.6L440.9 212.9L441.8 213.6L442.1 213.7L442.6 213.6L443.3 213.1L444.4 213.6L444.4 213.6L445.5 215.6L445.6 216L445.9 217.6L446.6 219.6L446.8 219.7L447.9 221.1L448.3 221.5L448.8 223.5L449.1 223.9L450.2 224.4L450.8 225.5L451.4 226.9L452.6 226.8L453.3 225.5L453.7 224.9L454.1 223.5L454.9 221.7L455 221.5L456.1 220.5L457.2 219.8L457.9 219.6L458.4 218.5L459.1 217.6L459.5 215.6L459.6 215.4L459.9 213.6L460.7 212.2ZM484.4 213.6L485.2 211.8L486.3 211.9L486.8 213.6L487.5 214.2L488.7 213.9L489.8 214.1L490.5 215.6L490.5 217.6L490.9 219.6L491 219.6L492.2 220.1L492.4 221.5L492.4 223.5L492.5 225.5L492.5 227.5L492.5 229.5L492.3 231.5L492.3 233.5L492.2 235.5L492.2 235.9L491.4 237.5L491 238.4L490.3 239.5L489.8 240.4L489.2 241.4L488.9 243.4L488.7 245.3L488.6 245.4L487.5 245.5L487.3 245.4L486.6 243.4L486.3 243.3L485.8 243.4L485.2 243.6L484.2 243.4L484 243.4L484 243.4L482.8 245L481.7 245.4L481.7 245.4L481.7 245.4L481.7 243.4L481.5 241.4L481.5 239.5L481.5 237.5L481.4 235.5L481.3 233.5L481.4 231.5L480.9 229.5L480.9 227.5L481 225.5L481 223.5L481.1 221.5L481.6 219.6L481.7 219L482.3 217.6L482.8 216.1L483.1 215.6L484 213.9ZM706.4 217.6L706.4 217.6L706.4 217.6L707.5 218.8L708.4 217.6L708.7 217.1L709.9 215.9L711 217.1L712.2 217.2L712.4 217.6L713.4 219.5L714.5 219.2L715.7 219.2L716.8 219L718 218.2L719.2 218.5L720.3 217.8L720.9 219.6L720.9 221.5L720.3 223.5L720.3 223.5L719.7 225.5L720.3 226.1L721.2 227.5L721 229.5L720.7 231.5L720.8 233.5L720.6 235.5L720.3 236L719.2 235.9L718 236.2L717.8 235.5L716.8 234.1L716.4 233.5L715.7 233L715.4 233.5L714.5 234.3L713.4 234L712.3 235.5L712.2 236.2L712 237.5L712.2 238.1L713.3 239.5L713.4 239.9L713.4 239.5L714.5 237.7L715.7 238.2L716.5 239.5L716.8 240L718 239.5L719.2 239.9L720.3 240.6L720.6 241.4L720.5 243.4L720.4 245.4L720.8 247.4L720.4 249.4L720.4 251.4L720.4 253.4L720.3 253.4L719.5 253.4L719.2 253.2L718 251.6L716.9 251.4L716.9 249.4L716.8 249L715.7 247.6L714.5 248.6L714.1 249.4L713.4 249.5L713.3 249.4L712.2 247.6L711 247.8L709.9 247.8L709.6 247.4L708.7 245.7L707.5 245.7L706.4 245.7L706.2 245.4L705.2 243.6L704 243.6L703.3 243.4L702.9 241.7L702.5 241.4L701.9 239.5L701.7 239.3L701.2 237.5L700.7 235.5L700.7 233.5L700.9 231.5L701.2 229.5L701.3 227.5L701.6 225.5L700.5 224L699.4 224.6L698.5 223.5L699.4 222.3L700 221.5L700.5 220.8L701 219.6L701.7 218.3L702.9 218.9L703.6 219.6L704 221.5L704 221.8L704.1 221.5L704.6 219.6L705.2 218.8ZM712.2 221.1L712.1 221.5L712.2 221.8L712.4 221.5ZM702.9 222.9L702.5 223.5L702.9 224.9L703.8 223.5ZM704 232.1L703.3 233.5L702.9 235L702.7 235.5L702.6 237.5L702.9 238.1L703 237.5L704 236L704.4 235.5L704.5 233.5ZM475.7 219.6L475.9 219.5L475.9 219.6L476.6 221.5L476.6 223.5L477 225.3L477.1 225.5L477.5 227.5L477.7 229.5L477 231.2L476.8 231.5L476.3 233.5L475.9 235.1L475.6 235.5L475.8 237.5L474.7 239.4L474.7 239.5L473.9 241.4L473.5 242.4L473.3 241.4L472.4 239.5L472.4 239.4L472.3 239.5L471.2 239.7L471.2 239.5L471 237.5L471 235.5L471.1 233.5L471.1 231.5L470.3 229.5L470.5 227.5L470.5 225.5L470.6 223.5L470.9 221.5L471.2 220.7L472.4 220.4L473.5 219.9L474.7 219.8ZM665.4 221.5L665.6 221.2L666.1 221.5L665.6 223.4ZM664.4 223.5L664.5 223.3L665.5 223.5L664.5 223.9ZM310.2 225.5L310.5 225.3L311 225.5L311.1 227.5L311.7 228.4L312.9 227.7L313.2 227.5L314 227.1L315.2 226.6L316.4 226.5L317.5 225.9L318.7 225.8L319.1 225.5L319.9 225L321 225.3L321.2 225.5L321.4 227.5L321 228.1L320.5 229.5L320.3 231.5L319.9 232.7L319.4 233.5L319.9 233.8L321 235.2L321.5 235.5L322.2 235.9L322.6 235.5L323.4 234.5L324.5 235.2L325.7 233.5L325.7 233.4L326.8 232.9L328 232.4L328.6 231.5L329 229.5L329.2 229L329.7 227.5L330.3 226.8L331.5 227.1L331.9 227.5L332.4 229.5L332.6 231.5L332.7 231.5L333.8 232.3L334 233.5L335 234.3L335.6 233.5L336 231.5L336.2 231.1L336.5 231.5L336.6 233.5L337.1 235.5L337.3 235.8L337.7 235.5L338.5 234.7L338.8 233.5L339.7 232.5L340.8 232.3L341.4 231.5L340.8 230.7L339.7 230.4L338.7 229.5L339.7 227.8L340 227.5L340.8 227.2L342 227.3L343.1 226.6L344.3 226.2L345.5 225.7L345.7 227.5L345.7 229.5L345.6 231.5L345.7 233.5L345.5 235.5L345.6 237.5L345.5 238.3L344.3 237.5L344.3 237.4L344.3 237.5L343.1 238.6L342 238.3L341.2 239.5L342 240.8L342.2 241.4L342 242.2L341.6 243.4L341 245.4L342 246L343.1 245.9L343.5 245.4L344.3 243.8L344.7 243.4L345.5 242.4L345.5 243.4L345.6 245.4L345.6 247.4L345.6 249.4L345.6 251.4L345.6 253.4L345.7 255.4L345.6 257.4L345.6 259.3L345.5 260.8L344.3 261.1L343.1 259.3L343.1 259.3L342 259.1L340.8 258.7L340.7 257.4L340.8 256.8L342 255.8L342.2 255.4L343.1 253.7L343.3 253.4L343.4 251.4L343.1 251.1L342.2 251.4L342 251.4L340.8 253.3L340.8 253.4L339.7 254.2L338.5 254.4L337.4 255.4L337.3 255.7L336.7 257.4L336.3 259.3L336.2 260.4L335.9 261.3L335 262.1L333.8 262.9L333.3 263.3L332.7 263.9L332.2 263.3L332.3 261.3L331.9 259.3L331.5 258.3L330.3 258.2L330 259.3L329.2 259.8L328.1 261.3L328 261.4L326.8 261.8L326.6 261.3L326.2 259.3L325.7 258.6L324.5 258.5L324.2 259.3L323.4 260.8L322.2 260.6L321 259.9L320.5 259.3L319.9 258.2L318.7 258.5L317.5 258.9L316.4 257.6L315.2 259.2L314 258.8L313.6 257.4L314 255.4L314.1 255.4L315.2 253.6L315.4 253.4L316.4 251.8L316.6 251.4L316.4 251L315.4 249.4L315.9 247.4L315.2 246.7L314 246.6L313.1 245.4L314 244.4L314.6 243.4L314.8 241.4L315.2 240.6L315.6 239.5L315.2 239.2L314.6 239.5L314 240.3L313.9 239.5L312.9 238.5L311.8 239.5L311.7 239.7L310.5 240.7L309.9 241.4L310.5 242.3L311.6 243.4L311.7 243.7L312.8 245.4L312.4 247.4L311.9 249.4L311.7 249.9L311.2 251.4L310.6 253.4L310.5 253.5L309.7 255.4L309.4 255.8L308.2 256.1L307.7 257.4L307.1 258.2L306.2 259.3L305.9 260.7L304.7 260.4L303.7 259.3L304.3 257.4L304.2 255.4L304.5 253.4L304.7 251.6L304.8 251.4L304.7 251.3L303.6 249.4L303.6 248.5L303.6 247.4L303.6 247.3L304.4 245.4L303.6 243.8L303.5 243.4L303.6 243.2L304.2 241.4L304 239.5L304 237.5L304.1 235.5L303.6 234.5L303.4 233.5L303.4 231.5L303.6 230.6L304 229.5L303.7 227.5L304.7 226L305.9 226.4L307.1 226.8L308.2 226.4L309.4 226.4ZM317.5 237.1L317.4 237.5L317.5 238.1L317.7 237.5ZM318.7 247.4L318.7 247.4L318.7 247.5L318.8 247.4ZM321 244.8L320.6 245.4L321 246.1L322 247.4L321 248.2L320.6 249.4L321 250.1L322.2 249.6L322.3 249.4L322.3 247.4L323 245.4L322.2 243.8ZM324.5 237.3L324.5 237.5L324.5 237.5L324.6 237.5ZM325.7 238.3L325 239.5L324.5 240.6L324.3 241.4L323.7 243.4L324 245.4L324.2 247.4L324.5 248.8L324.8 249.4L325.7 249.9L326 249.4L326.7 247.4L326.8 247.2L327.3 247.4L328 248L329.2 248.2L330.1 247.4L329.2 246L328 246.8L327.7 245.4L327 243.4L326.8 242.8L326.1 241.4L326.7 239.5ZM328 237.4L328 237.5L328 237.5L328 237.5ZM330.3 249L330.3 249.4L330.3 249.4L330.4 249.4ZM331.5 245.3L331.4 245.4L331.5 246.4L332.7 245.7L333.3 245.4L332.7 245.2ZM338.5 238.7L338 239.5L337.3 240.7L337.1 241.4L336.2 241.9L335.9 241.4L335 239.9L334.7 241.4L334.9 243.4L333.9 245.4L335 246.2L336.2 245.5L336.3 245.4L337.1 243.4L337.3 241.9L337.5 243.4L338.5 244.9L339.1 243.4L339.2 241.4L338.6 239.5ZM305.9 243.3L305.8 243.4L305.9 243.8L306.1 245.4L305.9 247.4L305.9 247.5L305.3 249.4L305.9 250.1L306.4 249.4L307.1 248.5L307.5 247.4L308.1 245.4L308.2 245L308.8 243.4L308.2 242.2L307.1 242ZM307.1 233L306.9 233.5L307.1 233.9L307.6 233.5ZM308.2 231.1L307.7 231.5L308.2 232.7L308.8 233.5L309.4 234L309.7 233.5L309.4 231.5L309.4 231.5ZM317.5 249L317.1 249.4L317.5 250L317.8 249.4ZM321 255L320.8 255.4L321 256.4L321.5 255.4ZM325.7 252.6L325.2 253.4L325.7 254.8L326 253.4ZM328 254.2L327 255.4L328 255.7L328.2 255.4ZM332.7 255.1L332.1 255.4L332.7 256.9L333.5 255.4ZM335 253.3L335 253.4L335 253.5L335.1 253.4ZM337.3 251.3L337.2 251.4L337.3 251.6L337.5 251.4ZM326.7 227.5L326.8 227.4L327.3 227.5L326.8 228.2ZM410.5 233.5L410.7 233.4L410.8 233.5L410.7 233.6ZM693.4 235.5L693.6 234.9L693.9 235.5L693.6 236.4ZM699 235.5L699.4 234.9L700.3 235.5L699.4 236.3Z"/>
<path fill="#44006d" d="M409.5 144L409.5 143.9L410.7 142.8L411.8 143.7L412 144L412.9 146L413 146.5L413.4 148L413.5 149.9L413.1 151.9L413 152.7L412.8 153.9L412.5 155.9L412.1 157.9L411.8 159L411.1 159.9L410.7 160.4L410.5 159.9L409.7 157.9L409.5 157.5L409.1 155.9L408.7 153.9L408.3 152.9L408 151.9L407.4 149.9L407.4 148L408.3 146L408.3 145.9ZM439 217.6L439.8 216.7L440.9 215.9L442.1 216.4L443.3 215.6L444.3 217.6L444.4 218.2L444.9 219.6L445.6 220.1L446.8 221.4L446.9 221.5L447.3 223.5L447.9 225.1L448.2 225.5L448.8 227.5L448.6 229.5L447.9 230.3L447.2 231.5L447 233.5L446.8 234.3L446.2 235.5L445.7 237.5L445.6 237.8L445.2 239.5L444.4 241.1L444.2 241.4L443.3 242.8L442.4 243.4L442.1 243.7L440.9 244.1L439.8 244.2L438.8 243.4L438.6 243.1L437.9 241.4L437.8 239.5L437.4 238.9L436.4 237.5L436.3 237.2L435.9 235.5L435.9 233.5L435.5 231.5L435.3 229.5L435.1 228.9L434.6 227.5L435.1 225.9L435.2 225.5L435.9 223.5L436.3 222.5L436.5 221.5L437.4 220.4L438.1 219.6L438.6 218.1ZM483.4 217.6L484 216.3L485.2 216.2L486.3 216.4L487.4 217.6L487.5 217.7L487.8 217.6L488.7 217.3L488.8 217.6L489.1 219.6L489.8 220.2L491 220.8L492.2 221.4L492.2 221.5L492.2 223.5L492.3 225.5L492.3 227.5L492.4 229.5L492.2 231.2L491 231.4L490.9 231.5L491 233.4L491 233.5L491 233.5L490.6 235.5L490.1 237.5L489.8 237.8L488.7 239.3L488.5 239.5L487.5 240.9L486.3 241.1L485.2 241L484 240.4L482.8 239.9L482.6 239.5L482.7 237.5L482.5 235.5L482.3 233.5L482.3 231.5L481.7 231.2L481.2 229.5L481.3 227.5L481.3 225.5L481.4 223.5L481.4 221.5L481.7 220.5L482.5 219.6L482.8 218.6ZM709.6 217.6L709.9 217.3L711 217.4L712.1 217.6L711.7 219.6L711.3 221.5L711 222.6L710.6 223.5L710.4 225.5L711 227L711.6 227.5L712.2 229.5L711.9 231.5L712.2 232.3L712.6 233.5L712.2 234L711.6 235.5L711.3 237.5L711.5 239.5L711.3 241.4L711.9 243.4L711.5 245.4L711.2 247.4L711 247.5L709.9 247.4L709.8 247.4L709 245.4L709.2 243.4L709.7 241.4L708.7 239.8L707.8 241.4L707.5 241.8L706.4 242.9L705.4 241.4L705.2 241.2L704.5 239.5L705.1 237.5L705.2 237.4L705.9 235.5L706.4 233.6L706.8 235.5L707.5 236.5L708.7 235.5L708.7 235.5L709.1 233.5L708.7 232.9L707.5 232.5L706.4 233.4L705.5 231.5L705.2 230.6L704 229.8L703.9 229.5L704 229.2L705.1 227.5L704.7 225.5L705.2 224.2L705.5 223.5L706.4 222.5L707.5 223.5L707.5 223.5L707.5 223.5L708.7 222.5L709 221.5L708.7 220.5L708.4 219.6L708.7 219.1ZM709.9 227.5L709.8 227.5L709.9 227.6L709.9 227.5ZM708.7 229.5L708.7 229.5L708.7 229.5L708.7 229.5ZM460.2 219.6L460.7 218.7L461.9 217.9L463.1 217.9L464.2 219.6L464.2 219.6L465.2 221.5L465.4 222.2L465.6 223.5L465.7 225.5L465.6 227.5L465.8 229.5L465.4 231.1L465.1 231.5L464.7 233.5L464.6 235.5L464.4 237.5L464.2 239.5L464.2 239.5L463.6 241.4L463.1 242.4L461.9 242.2L460.7 241.5L460.6 241.4L459.6 240.3L458.9 239.5L458.4 239L457.2 238.8L456.3 237.5L456.5 235.5L456.7 233.5L456.6 231.5L456.1 231.2L454.9 229.9L454.6 229.5L454.9 228.3L455.1 227.5L455.4 225.5L456.1 223.6L456.1 223.5L456.7 221.5L457.2 221.2L458.4 220.6L459.6 220ZM714.5 219.6L714.5 219.6L714.5 219.6L714.5 219.7ZM422.4 221.5L423.5 220.9L424.6 220.4L425.8 220.1L427 220.1L428.1 221.3L428.4 221.5L429.3 223L429.8 223.5L430.5 224.5L431 225.5L431.5 227.5L431.6 229.3L431.7 229.5L431.9 231.5L431.8 233.5L431.6 234.7L431.4 235.5L430.8 237.5L430.5 238.1L429.6 239.5L429.3 239.9L428.1 241.3L428 241.4L427 242.4L425.8 242.6L424.6 242.5L423.5 242.2L423 241.4L422.3 240.7L421.1 240.3L420.5 239.5L420.3 237.5L420.2 235.5L420 233.5L420 233.5L419.7 231.5L419.4 229.5L419.6 227.5L420 226.3L420.2 225.5L420.9 223.5L421.1 223L422.3 221.6ZM472.5 221.5L473.5 221.1L474.7 221L475.9 221.3L476 221.5L475.9 223.5L476.4 225.5L476.8 227.5L477 228.2L477.2 229.5L477 230L476 231.5L475.9 231.9L475.5 231.5L474.7 231.1L473.5 230.7L472.4 230.6L471.2 230.8L470.7 229.5L470.9 227.5L470.9 225.5L471 223.5L471.2 222.4L472.4 221.7ZM701.2 221.5L701.7 220.4L702.5 221.5L701.7 222.9ZM717.7 221.5L718 221.2L719.2 220.7L720.1 221.5L719.2 222.6L718.6 223.5L718 224.7L717.4 225.5L716.9 227.5L718 228.3L719.2 228.9L719.9 229.5L719.2 230.2L718.7 231.5L718 233L717.4 231.5L716.8 230L715.7 230.2L715.1 231.5L714.5 232.6L713.4 232.2L712.6 231.5L712.2 229.5L713.4 228.5L713.6 227.5L714 225.5L713.9 223.5L714.5 222L715.7 223.1L716.8 222.2ZM318.2 227.5L318.7 227.3L319.3 227.5L318.9 229.5L318.7 229.8L317.5 230.7L316.9 231.5L316.4 232.4L315.2 232.6L314.9 231.5L315.2 231.1L315.8 229.5L316.4 228.1L317.5 227.9ZM345.2 227.5L345.5 227.4L345.5 227.5L345.5 228.8ZM343.9 231.5L344.3 230L344.7 231.5L344.5 233.5L344.3 233.5L344.3 233.5ZM330.3 233.5L330.3 233.3L330.4 233.5L330.3 234ZM701.5 233.5L701.7 231.7L702.1 233.5L701.7 234.3ZM305.8 235.5L305.9 234.4L306.1 235.5L305.9 236.3ZM309.5 237.5L310.5 236.7L311.1 237.5L310.5 237.8ZM333.5 237.5L333.8 236.3L334.3 237.5L333.8 238.6L333.6 239.5L333.5 241.4L332.7 242L331.5 242.9L330.7 243.4L330.3 243.8L329.2 243.5L329.1 243.4L329.2 243.4L329.9 241.4L330.3 240.1L331.2 239.5L331.5 239.2L332.7 238.3ZM318.4 239.5L318.7 238.7L319.9 238.4L320.1 239.5L319.9 239.6L318.7 240.4ZM714.2 241.4L714.5 240.5L715.2 241.4L715.3 243.4L714.5 244.8L713.4 243.7L712.8 243.4L713.4 243.2ZM717.9 243.4L718 243.2L718.2 243.4L718 244.2ZM308.8 247.4L309.4 246.2L310.5 247.1L310.8 247.4L311 249.4L310.5 250.5L309.8 251.4L309.6 253.4L309.4 253.9L308.4 253.4L308.2 251.9L308.2 251.4L308.2 251.3L308.8 249.4ZM335.5 247.4L336.2 247L336.6 247.4L336.4 249.4L336.2 249.7L335 250.7L334.3 251.4L333.8 252.2L333.1 253.4L332.7 253.7L332 253.4L331.6 251.4L332.7 249.8L332.9 249.4L333.8 248L335 247.9ZM717.8 247.4L718 246.3L718.3 247.4L718 248.1ZM341.5 249.4L342 249.1L342.1 249.4L342 249.5ZM339.6 251.4L339.7 251.3L339.7 251.4L339.7 251.4ZM317.4 253.4L317.5 253.1L317.9 253.4L317.5 253.7ZM305.8 255.4L305.9 255L306.1 255.4L305.9 255.7ZM344.3 255.4L344.3 255.3L344.3 255.4L344.3 255.5Z"/>
<path fill="#49007e" d="M409.9 144L410.7 143.2L411.6 144L411.8 144.1L412.7 146L413 147.1L413.3 148L413.4 149.9L413 151.6L413 151.9L412.7 153.9L412.2 155.9L411.8 157.5L411.5 157.9L410.7 159L410.2 157.9L409.5 156.4L409.4 155.9L408.8 153.9L408.3 152.3L408.2 151.9L407.4 149.9L407.4 148L408.3 146.1L408.4 146L409.5 144.1ZM440.6 219.6L440.9 219.3L442.1 219.6L442.1 219.6L443.3 220L444.4 220.5L445.5 221.5L445.6 221.8L446.2 223.5L446.5 225.5L446.8 226.3L447.4 227.5L447.6 229.5L446.8 230.9L446.2 231.5L445.6 233.5L445.6 233.6L444.8 235.5L444.4 236.6L443.5 237.5L443.3 238.4L442.1 238.9L440.9 238.8L440.1 237.5L439.8 237.2L438.6 236.7L437.4 235.8L437.3 235.5L437.1 233.5L436.6 231.5L436.4 229.5L436.4 227.5L436.4 225.5L437.1 223.5L437.4 222.3L437.7 221.5L438.6 220.4L439.8 219.9ZM484 219.6L484 219.5L485.2 219.1L485.7 219.6L486.3 219.8L487.5 219.9L488.7 220.7L489.8 221.5L489.8 221.6L490.9 223.5L491 224.1L491.4 225.5L492.2 227.4L492.2 227.5L492.2 229.5L492.2 229.8L491 230.2L489.8 231L488.7 231.4L488.2 231.5L487.9 233.5L488.7 235.3L488.8 235.5L488.7 236.7L488.5 237.5L487.5 237.9L486.5 237.5L486.3 237L485.2 236L484.9 235.5L484.8 233.5L484.2 231.5L484 231.5L482.8 230.8L481.7 230L481.5 229.5L481.6 227.5L481.7 225.5L481.7 225.5L482.1 223.5L482 221.5L482.8 220.8ZM424.4 221.5L424.6 221.5L425.8 221L427 221.4L427.1 221.5L428 223.5L428.1 223.7L429.3 225L429.7 225.5L430.5 227.5L430.5 227.5L430.6 229.5L430.5 231.5L430.5 231.9L430.3 233.5L429.9 235.5L429.4 237.5L429.3 237.6L428.1 239.3L428 239.5L427 240.5L425.8 240.5L424.6 240.2L423.9 239.5L423.5 239.1L422.3 238L422 237.5L421.5 235.5L421.1 234L421.1 233.5L421 231.5L420.7 229.5L420.8 227.5L421.1 226.6L421.6 225.5L422.3 223.7L422.4 223.5L423.5 222.3ZM458.7 221.5L459.6 221L460.7 220.4L461.9 219.9L463.1 220.7L464.2 221.2L464.4 221.5L464.9 223.5L465.3 225.5L465.2 227.5L465.3 229.5L464.2 231.3L463.1 231.4L462.7 231.5L462.6 233.5L462.5 235.5L461.9 236.7L461.3 235.5L460.7 234.1L460.5 233.5L460.3 231.5L459.6 231.2L458.4 231L457.2 230.8L456.1 229.6L456 229.5L456.1 229.2L456.3 227.5L456.7 225.5L457.2 223.5L457.2 223.5L458.4 221.9ZM473.2 223.5L473.5 223.2L473.7 223.5L474.1 225.5L474.7 226.7L475.3 227.5L475.9 228.1L476.4 229.5L475.9 230.2L474.7 229.8L473.5 229.8L472.4 229.6L471.2 229.9L471 229.5L471.2 227.8L471.4 227.5L472.4 225.6L472.4 225.5Z"/>
<path fill="#4d0089" d="M410.3 144L410.7 143.7L411.1 144L411.8 144.3L412.6 146L413 147.6L413.1 148L413.2 149.9L413 150.9L412.9 151.9L412.5 153.9L412 155.9L411.8 156.5L410.7 157.8L409.7 155.9L409.5 155.6L409 153.9L408.4 151.9L408.3 151.9L407.5 149.9L407.5 148L408.3 146.2L408.5 146L409.5 144.3ZM439.4 221.5L439.8 221.3L440.9 221L442.1 221.1L443.3 221.4L443.7 221.5L444.4 222L445.3 223.5L445.6 225.5L445.6 225.5L446.1 227.5L446.6 229.5L445.6 230.7L445.2 231.5L444.6 233.5L444.4 233.9L443.3 235.3L442.8 235.5L442.1 235.7L440.9 236L440.4 235.5L439.8 234.8L438.6 233.9L438.4 233.5L437.6 231.5L437.4 230.6L437.3 229.5L437.4 228L437.5 227.5L437.5 225.5L438.4 223.5L438.6 222.8ZM461.4 221.5L461.9 221.4L462.2 221.5L463.1 222.8L463.8 223.5L464.2 223.8L464.6 225.5L464.6 227.5L464.6 229.5L464.2 230L463.1 230.6L461.9 231L460.7 230.8L459.6 230.4L458.4 230.1L457.2 229.7L457 229.5L457.2 227.7L457.3 227.5L458.4 225.5L458.4 225.4L458.8 223.5L459.6 222.5L460.7 222ZM484 221.5L484 221.5L484.8 221.5L485.2 221.6L485.2 221.5L486.3 221.2L487.5 221.2L488 221.5L488.7 222.3L489.4 223.5L489.8 224.8L490.1 225.5L490.1 227.5L490.4 229.5L489.8 230L488.7 230.4L487.5 230.8L486.3 230.9L485.2 230.8L484 230.4L482.8 229.9L482.4 229.5L482.7 227.5L482.8 226.2L482.9 225.5L483.8 223.5ZM424.5 223.5L424.6 223.4L425.8 223.1L426.1 223.5L427 224.2L428.1 225.5L428.1 225.6L429.2 227.5L429.3 228.3L429.5 229.5L429.5 231.5L429.3 233.5L429.3 233.6L428.8 235.5L428.3 237.5L428.1 237.7L427 238.6L425.8 238.4L424.6 237.9L424 237.5L423.5 236.8L422.9 235.5L422.6 233.5L422.3 232.6L422.1 231.5L422 229.5L422.1 227.5L422.3 227.1L423 225.5L423.5 224.9Z"/>
<path fill="#510098" d="M408.6 146L409.5 144.4L410.7 144L411.8 144.6L412.5 146L413 148L413 149L413 149.9L413 150.2L412.8 151.9L412.3 153.9L411.8 155.6L411.6 155.9L410.7 157.1L410.1 155.9L409.5 155L409.2 153.9L408.4 151.9L408.3 151.8L407.5 149.9L407.6 148L408.3 146.3ZM440.8 223.5L440.9 223.4L442.1 223.1L442.8 223.5L443.3 223.8L444.4 224.4L444.7 225.5L444.8 227.5L445.3 229.5L444.4 231.1L444.1 231.5L443.3 232.7L442.1 233L440.9 233L439.8 231.9L439.5 231.5L438.6 230.3L438.3 229.5L438.4 227.5L438.6 226.6L439.1 225.5L439.8 224.6ZM460 225.5L460.7 225.2L461.9 224.3L463.1 225.2L463.4 225.5L463.8 227.5L463.7 229.5L463.1 229.9L461.9 230.2L460.7 230L459.6 229.6L459.4 229.5L459.1 227.5L459.6 225.9ZM485.8 225.5L486.3 224.7L487.5 224.1L488.6 225.5L488.7 226.8L488.7 227.5L488.7 228.4L488.6 229.5L487.5 229.9L486.3 230L485.2 229.9L484.2 229.5L484.5 227.5L485.2 226.5ZM423.8 227.5L424.6 226.3L425.8 225.7L427 225.8L428 227.5L428.1 228.1L428.3 229.5L428.3 231.5L428.1 232.8L428 233.5L427.4 235.5L427 236.3L425.8 236.1L425.2 235.5L424.6 234.8L424.1 233.5L423.5 231.5L423.5 231L423.3 229.5L423.5 228.8Z"/>
<path fill="#5600a7" d="M408.7 146L409.5 144.6L410.7 144.1L411.8 144.8L412.4 146L412.9 148L413 149.9L412.7 151.9L412.1 153.9L411.8 155L411 155.9L410.7 156.3L410.5 155.9L409.5 154.4L409.4 153.9L408.5 151.9L408.3 151.6L407.6 149.9L407.6 148L408.3 146.5ZM439.8 227.5L439.8 227.5L440.9 226.3L442.1 226.3L443.3 227.3L443.3 227.5L443.9 229.5L443.3 230.2L442.1 230.3L440.9 230.5L439.8 229.5L439.8 229.5ZM461.5 227.5L461.9 227.2L462.2 227.5L461.9 228.5ZM425.2 229.5L425.8 228.3L427 228.7L427.2 229.5L427 231.1L426.8 231.5L425.8 232.2L425.1 231.5Z"/>
<path fill="#5a01b5" d="M408.8 146L409.5 144.7L410.7 144.3L411.8 145.1L412.3 146L412.9 148L412.9 149.9L412.6 151.9L412 153.9L411.8 154.4L410.7 155.7L409.5 153.9L409.5 153.9L408.6 151.9L408.3 151.5L407.6 149.9L407.7 148L408.3 146.6Z"/>
<path fill="#5e01c2" d="M408.9 146L409.5 144.9L410.7 144.4L411.8 145.3L412.1 146L412.9 148L412.9 149.9L412.5 151.9L411.8 153.8L411.7 153.9L410.7 155.3L409.8 153.9L409.5 153.8L408.6 151.9L408.3 151.4L407.7 149.9L407.7 148L408.3 146.7Z"/>
<path fill="#6101ca" d="M409 146L409.5 145L410.7 144.5L411.8 145.6L412 146L412.8 148L412.9 149.9L412.4 151.9L411.8 153.6L411.4 153.9L410.7 154.9L410 153.9L409.5 153.6L408.7 151.9L408.3 151.3L407.8 149.9L407.8 148L408.3 146.8Z"/>
<path fill="#6501d5" d="M409 146L409.5 145.2L410.7 144.6L411.8 145.8L411.9 146L412.8 148L412.8 149.9L412.3 151.9L411.8 153.3L411.1 153.9L410.7 154.6L410.3 153.9L409.5 153.5L408.8 151.9L408.3 151.1L407.8 149.9L407.9 148L408.3 147Z"/>
<path fill="#6901de" d="M409.1 146L409.5 145.3L410.7 144.7L411.8 146L411.8 146L412.8 148L412.8 149.9L412.2 151.9L411.8 153L410.9 153.9L410.7 154.2L410.5 153.9L409.5 153.3L408.9 151.9L408.3 151L407.9 149.9L407.9 148L408.3 147.1Z"/>
<path fill="#6c01e7" d="M409.2 146L409.5 145.5L410.7 144.9L411.7 146L411.8 146.1L412.7 148L412.8 149.9L412.1 151.9L411.8 152.8L410.7 153.9L409.5 153.2L408.9 151.9L408.3 150.9L407.9 149.9L408 148L408.3 147.2Z"/>
<path fill="#7002ee" d="M409.3 146L409.5 145.6L410.7 145L411.6 146L411.8 146.2L412.7 148L412.7 149.9L412 151.9L411.8 152.5L410.7 153.8L409.5 153L409 151.9L408.3 150.7L408 149.9L408 148L408.3 147.4Z"/>
<path fill="#7302f4" d="M409.4 146L409.5 145.8L410.7 145.1L411.5 146L411.8 146.2L412.6 148L412.7 149.9L411.9 151.9L411.8 152.2L410.7 153.6L409.5 152.9L409.1 151.9L408.3 150.6L408 149.9L408.1 148L408.3 147.5Z"/>
<path fill="#7502f8" d="M409.5 146L409.5 146L410.7 145.2L411.3 146L411.8 146.3L412.6 148L412.7 149.9L411.8 151.9L411.8 152L410.7 153.5L409.5 152.7L409.1 151.9L408.3 150.5L408.1 149.9L408.2 148L408.3 147.6Z"/>
<path fill="#7903fb" d="M409.7 146L410.7 145.3L411.2 146L411.8 146.4L412.6 148L412.6 149.9L411.8 151.9L411.8 151.9L410.7 153.4L409.5 152.6L409.2 151.9L408.3 150.3L408.2 149.9L408.2 148L408.3 147.7L409.5 146Z"/>
<path fill="#7c03fe" d="M409.9 146L410.7 145.5L411.1 146L411.8 146.5L412.5 148L412.6 149.9L411.8 151.8L411.7 151.9L410.7 153.3L409.5 152.4L409.3 151.9L408.3 150.2L408.2 149.9L408.3 148L408.3 147.9L409.5 146Z"/>
<path fill="#7f04ff" d="M410.1 146L410.7 145.6L411 146L411.8 146.6L412.5 148L412.6 149.9L411.8 151.7L411.6 151.9L410.7 153.2L409.5 152.3L409.3 151.9L408.3 150.1L408.3 149.9L408.3 148.3L408.3 148L409.5 146.1Z"/>
<path fill="#8204ff" d="M410.3 146L410.7 145.7L410.9 146L411.8 146.6L412.5 148L412.5 149.9L411.8 151.6L411.5 151.9L410.7 153L409.5 152.1L409.4 151.9L408.3 150L408.3 149.9L408.3 149.8L408.4 148L409.5 146.1Z"/>
<path fill="#8405fe" d="M410.4 146L410.7 145.8L410.8 146L411.8 146.7L412.4 148L412.5 149.9L411.8 151.5L411.4 151.9L410.7 152.9L409.5 152L409.5 151.9L408.4 149.9L408.4 148L409.5 146.1Z"/>
<path fill="#8706fb" d="M410.6 146L410.7 146L410.7 146L411.8 146.8L412.4 148L412.4 149.9L411.8 151.4L411.3 151.9L410.7 152.8L409.6 151.9L409.5 151.9L408.4 149.9L408.4 148L409.5 146.2Z"/>
<path fill="#8906f7" d="M408.4 148L409.5 146.2L410.7 146L411.8 146.9L412.3 148L412.4 149.9L411.8 151.4L411.2 151.9L410.7 152.7L409.8 151.9L409.5 151.9L408.4 149.9Z"/>
<path fill="#8c07f2" d="M408.4 148L409.5 146.2L410.7 146L411.8 147L412.3 148L412.4 149.9L411.8 151.3L411.1 151.9L410.7 152.6L409.9 151.9L409.5 151.8L408.4 149.9Z"/>
<path fill="#8f08eb" d="M408.5 148L409.5 146.3L410.7 146.1L411.8 147L412.3 148L412.3 149.9L411.8 151.2L411.1 151.9L410.7 152.5L410 151.9L409.5 151.8L408.4 149.9Z"/>
<path fill="#9108e6" d="M408.5 148L409.5 146.3L410.7 146.1L411.8 147.1L412.2 148L412.3 149.9L411.8 151.1L411 151.9L410.7 152.3L410.2 151.9L409.5 151.8L408.5 149.9Z"/>
<path fill="#9309dd" d="M408.5 148L409.5 146.3L410.7 146.1L411.8 147.2L412.2 148L412.3 149.9L411.8 151L410.9 151.9L410.7 152.2L410.3 151.9L409.5 151.7L408.5 149.9Z"/>
<path fill="#960ad3" d="M408.5 148L409.5 146.4L410.7 146.1L411.8 147.3L412.2 148L412.2 149.9L411.8 150.9L410.8 151.9L410.7 152.1L410.5 151.9L409.5 151.7L408.5 149.9Z"/>
<path fill="#980cc8" d="M408.6 148L409.5 146.4L410.7 146.2L411.8 147.3L412.1 148L412.2 149.9L411.8 150.8L410.7 151.9L410.7 152L410.6 151.9L409.5 151.7L408.5 149.9Z"/>
<path fill="#9b0dbb" d="M408.6 148L409.5 146.4L410.7 146.2L411.8 147.4L412.1 148L412.2 149.9L411.8 150.8L410.7 151.9L409.5 151.6L408.5 149.9Z"/>
<path fill="#9d0eae" d="M408.6 148L409.5 146.5L410.7 146.2L411.8 147.5L412 148L412.1 149.9L411.8 150.7L410.7 151.9L409.5 151.6L408.6 149.9Z"/>
<path fill="#9f0fa5" d="M408.6 148L409.5 146.5L410.7 146.3L411.8 147.6L412 148L412.1 149.9L411.8 150.6L410.7 151.8L409.5 151.6L408.6 149.9Z"/>
<path fill="#a11096" d="M408.6 148L409.5 146.5L410.7 146.3L411.8 147.7L412 148L412.1 149.9L411.8 150.5L410.7 151.8L409.5 151.5L408.6 149.9Z"/>
<path fill="#a41286" d="M408.7 148L409.5 146.6L410.7 146.3L411.8 147.7L411.9 148L412 149.9L411.8 150.4L410.7 151.8L409.5 151.5L408.6 149.9Z"/>
<path fill="#a61376" d="M408.7 148L409.5 146.6L410.7 146.4L411.8 147.8L411.9 148L412 149.9L411.8 150.3L410.7 151.7L409.5 151.5L408.6 149.9Z"/>
<path fill="#a81565" d="M408.7 148L409.5 146.6L410.7 146.4L411.8 147.9L411.9 148L412 149.9L411.8 150.2L410.7 151.7L409.5 151.4L408.7 149.9Z"/>
<path fill="#aa1659" d="M408.7 148L409.5 146.7L410.7 146.4L411.8 148L411.8 148.1L411.9 149.9L411.8 150.2L410.7 151.7L409.5 151.4L408.7 149.9Z"/>
<path fill="#ac1847" d="M408.7 148L409.5 146.7L410.7 146.4L411.8 148L411.8 148.8L411.9 149.9L411.8 150.1L410.7 151.6L409.5 151.4L408.7 149.9Z"/>
<path fill="#ae1a35" d="M408.8 148L409.5 146.8L410.7 146.5L411.8 148L411.8 149.6L411.9 149.9L411.8 150L410.7 151.6L409.5 151.3L408.7 149.9Z"/>
<path fill="#b01c22" d="M408.8 148L409.5 146.8L410.7 146.5L411.8 148L411.8 149.9L410.7 151.6L409.5 151.3L408.7 149.9Z"/>
<path fill="#b31e10" d="M408.8 148L409.5 146.8L410.7 146.5L411.7 148L411.8 149.9L410.7 151.5L409.5 151.3L408.8 149.9Z"/>
<path fill="#b52000" d="M408.8 148L409.5 146.9L410.7 146.6L411.7 148L411.8 149.9L410.7 151.5L409.5 151.2L408.8 149.9Z"/>
<path fill="#b62200" d="M408.8 148L409.5 146.9L410.7 146.6L411.7 148L411.7 149.9L410.7 151.5L409.5 151.2L408.8 149.9Z"/>
<path fill="#b82400" d="M408.9 148L409.5 146.9L410.7 146.6L411.7 148L411.7 149.9L410.7 151.4L409.5 151.2L408.8 149.9Z"/>
<path fill="#ba2700" d="M408.9 148L409.5 147L410.7 146.7L411.6 148L411.7 149.9L410.7 151.4L409.5 151.1L408.8 149.9Z"/>
<path fill="#bc2900" d="M408.9 148L409.5 147L410.7 146.7L411.6 148L411.7 149.9L410.7 151.4L409.5 151.1L408.9 149.9Z"/>
<path fill="#be2c00" d="M408.9 148L409.5 147L410.7 146.7L411.6 148L411.7 149.9L410.7 151.3L409.5 151L408.9 149.9Z"/>
<path fill="#c02e00" d="M409 148L409.5 147.1L410.7 146.8L411.6 148L411.6 149.9L410.7 151.3L409.5 151L408.9 149.9Z"/>
<path fill="#c23100" d="M409 148L409.5 147.1L410.7 146.8L411.6 148L411.6 149.9L410.7 151.3L409.5 151L408.9 149.9Z"/>
<path fill="#c43400" d="M409 148L409.5 147.1L410.7 146.8L411.5 148L411.6 149.9L410.7 151.2L409.5 150.9L408.9 149.9Z"/>
<path fill="#c63700" d="M409 148L409.5 147.2L410.7 146.8L411.5 148L411.6 149.9L410.7 151.2L409.5 150.9L409 149.9Z"/>
<path fill="#c73a00" d="M409 148L409.5 147.2L410.7 146.9L411.5 148L411.5 149.9L410.7 151.2L409.5 150.9L409 149.9Z"/>
<path fill="#c93d00" d="M409.1 148L409.5 147.2L410.7 146.9L411.5 148L411.5 149.9L410.7 151.1L409.5 150.8L409 149.9Z"/>
<path fill="#cb4000" d="M409.1 148L409.5 147.3L410.7 146.9L411.4 148L411.5 149.9L410.7 151.1L409.5 150.8L409 149.9Z"/>
<path fill="#cc4400" d="M409.1 148L409.5 147.3L410.7 147L411.4 148L411.5 149.9L410.7 151.1L409.5 150.8L409 149.9Z"/>
<path fill="#ce4800" d="M409.1 148L409.5 147.3L410.7 147L411.4 148L411.4 149.9L410.7 151L409.5 150.7L409 149.9Z"/>
<path fill="#d04c00" d="M409.1 148L409.5 147.4L410.7 147L411.4 148L411.4 149.9L410.7 151L409.5 150.7L409.1 149.9Z"/>
<path fill="#d25000" d="M409.2 148L409.5 147.4L410.7 147.1L411.3 148L411.4 149.9L410.7 151L409.5 150.7L409.1 149.9Z"/>
<path fill="#d35200" d="M409.2 148L409.5 147.4L410.7 147.1L411.3 148L411.4 149.9L410.7 150.9L409.5 150.6L409.1 149.9Z"/>
<path fill="#d55700" d="M409.2 148L409.5 147.5L410.7 147.1L411.3 148L411.3 149.9L410.7 150.9L409.5 150.6L409.1 149.9Z"/>
<path fill="#d75b00" d="M409.2 148L409.5 147.5L410.7 147.1L411.3 148L411.3 149.9L410.7 150.9L409.5 150.6L409.1 149.9Z"/>
<path fill="#d96000" d="M409.2 148L409.5 147.5L410.7 147.2L411.3 148L411.3 149.9L410.7 150.8L409.5 150.5L409.2 149.9Z"/>
<path fill="#da6500" d="M409.3 148L409.5 147.6L410.7 147.2L411.2 148L411.3 149.9L410.7 150.8L409.5 150.5L409.2 149.9Z"/>
<path fill="#dc6800" d="M409.3 148L409.5 147.6L410.7 147.2L411.2 148L411.2 149.9L410.7 150.8L409.5 150.5L409.2 149.9Z"/>
<path fill="#dd6d00" d="M409.3 148L409.5 147.6L410.7 147.3L411.2 148L411.2 149.9L410.7 150.7L409.5 150.4L409.2 149.9Z"/>
<path fill="#df7200" d="M409.3 148L409.5 147.7L410.7 147.3L411.2 148L411.2 149.9L410.7 150.7L409.5 150.4L409.2 149.9Z"/>
<path fill="#e17700" d="M409.3 148L409.5 147.7L410.7 147.3L411.1 148L411.2 149.9L410.7 150.7L409.5 150.4L409.3 149.9Z"/>
<path fill="#e27d00" d="M409.4 148L409.5 147.7L410.7 147.4L411.1 148L411.1 149.9L410.7 150.6L409.5 150.3L409.3 149.9Z"/>
<path fill="#e48100" d="M409.4 148L409.5 147.8L410.7 147.4L411.1 148L411.1 149.9L410.7 150.6L409.5 150.3L409.3 149.9Z"/>
<path fill="#e58600" d="M409.4 148L409.5 147.8L410.7 147.4L411.1 148L411.1 149.9L410.7 150.6L409.5 150.3L409.3 149.9Z"/>
<path fill="#e78c00" d="M409.4 148L409.5 147.8L410.7 147.4L411.1 148L411.1 149.9L410.7 150.5L409.5 150.2L409.3 149.9Z"/>
<path fill="#e99300" d="M409.5 148L409.5 147.9L410.7 147.5L411 148L411 149.9L410.7 150.5L409.5 150.2L409.4 149.9Z"/>
<path fill="#ea9900" d="M409.5 148L409.5 147.9L410.7 147.5L411 148L411 149.9L410.7 150.5L409.5 150.2L409.4 149.9Z"/>
<path fill="#ec9f00" d="M409.5 148L409.5 147.9L410.7 147.5L411 148L411 149.9L410.7 150.4L409.5 150.1L409.4 149.9Z"/>
<path fill="#eda400" d="M409.6 148L410.7 147.6L411 148L411 149.9L410.7 150.4L409.5 150.1L409.4 149.9L409.5 148.2Z"/>
<path fill="#eeab00" d="M409.6 148L410.7 147.6L410.9 148L411 149.9L410.7 150.4L409.5 150L409.4 149.9L409.5 148.7Z"/>
<path fill="#f0b200" d="M409.7 148L410.7 147.6L410.9 148L410.9 149.9L410.7 150.3L409.5 150L409.5 149.9L409.5 149.1Z"/>
<path fill="#f2b900" d="M409.8 148L410.7 147.7L410.9 148L410.9 149.9L410.7 150.3L409.5 150L409.5 149.9L409.5 149.5Z"/>
<path fill="#f3c000" d="M409.9 148L410.7 147.7L410.9 148L410.9 149.9L410.7 150.2L409.5 149.9Z"/>
<path fill="#f4c500" d="M410 148L410.7 147.7L410.8 148L410.9 149.9L410.7 150.2L409.6 149.9Z"/>
<path fill="#f6cd00" d="M410.1 148L410.7 147.8L410.8 148L410.8 149.9L410.7 150.2L409.8 149.9Z"/>
<path fill="#f7d500" d="M410.2 148L410.7 147.8L410.8 148L410.8 149.9L410.7 150.1L409.9 149.9Z"/>
<path fill="#f9dd00" d="M410.2 148L410.7 147.8L410.8 148L410.8 149.9L410.7 150.1L410 149.9Z"/>
<path fill="#fae500" d="M410.3 148L410.7 147.8L410.8 148L410.8 149.9L410.7 150.1L410.2 149.9Z"/>
<path fill="#fbeb00" d="M410.4 148L410.7 147.9L410.7 148L410.7 149.9L410.7 150L410.3 149.9Z"/>
<path fill="#fdf300" d="M410.5 148L410.7 147.9L410.7 148L410.7 149.9L410.7 150L410.4 149.9Z"/>
<path fill="#fefc00" d="M410.6 148L410.7 147.9L410.7 148L410.7 149.9L410.7 150L410.6 149.9Z"/>
</g>
<line x1="407.50" y1="32.6" x2="407.50" y2="428.4" stroke="#fff" stroke-opacity="0.72" stroke-width="1.00"/>
<line x1="512.25" y1="32.6" x2="512.25" y2="428.4" stroke="#fff" stroke-opacity="0.72" stroke-width="1.00"/>
<line x1="616.50" y1="32.6" x2="616.50" y2="428.4" stroke="#fff" stroke-opacity="0.72" stroke-width="1.00"/>
<line x1="302.4" y1="230.50" x2="721.5" y2="230.50" stroke="#fff" stroke-opacity="0.72" stroke-width="1.00"/>
<g fill="#f00">
<circle cx="303.2" cy="130.5" r="3.0"/>
<circle cx="304.3" cy="130.5" r="3.0"/>
<circle cx="305.5" cy="130.5" r="3.0"/>
<circle cx="306.6" cy="130.5" r="3.0"/>
<circle cx="307.8" cy="130.5" r="3.0"/>
<circle cx="308.9" cy="130.5" r="3.0"/>
<circle cx="310.1" cy="130.5" r="3.0"/>
<circle cx="311.2" cy="130.5" r="3.0"/>
<circle cx="312.4" cy="130.5" r="3.0"/>
<circle cx="313.6" cy="130.5" r="3.0"/>
<circle cx="314.7" cy="130.5" r="3.0"/>
<circle cx="315.9" cy="130.5" r="3.0"/>
<circle cx="317.0" cy="130.5" r="3.0"/>
<circle cx="317.6" cy="133.8" r="3.0"/>
<circle cx="320.8" cy="132.4" r="3.0"/>
<circle cx="344.3" cy="130.5" r="3.0"/>
<circle cx="321.3" cy="221.8" r="3.0"/>
<circle cx="323.5" cy="222.8" r="3.0"/>
<circle cx="326.0" cy="223.8" r="3.0"/>
<circle cx="328.5" cy="224.6" r="3.0"/>
<circle cx="330.0" cy="225.2" r="3.0"/>
<circle cx="331.2" cy="225.2" r="3.0"/>
<circle cx="332.4" cy="225.2" r="3.0"/>
<circle cx="333.6" cy="225.2" r="3.0"/>
<circle cx="334.8" cy="225.2" r="3.0"/>
<circle cx="336.0" cy="225.2" r="3.0"/>
<circle cx="338.0" cy="224.6" r="3.0"/>
<circle cx="340.3" cy="223.6" r="3.0"/>
<circle cx="342.0" cy="222.6" r="3.0"/>
<circle cx="343.6" cy="221.6" r="3.0"/>
<circle cx="394.4" cy="149.0" r="3.0"/>
<circle cx="410.3" cy="130.5" r="3.0"/>
<circle cx="412.0" cy="135.3" r="3.0"/>
<circle cx="422.3" cy="138.3" r="3.0"/>
<circle cx="433.7" cy="135.3" r="3.0"/>
<circle cx="431.7" cy="138.4" r="3.0"/>
<circle cx="435.3" cy="141.7" r="3.0"/>
<circle cx="423.3" cy="164.8" r="3.0"/>
<circle cx="424.6" cy="164.8" r="3.0"/>
<circle cx="425.8" cy="164.8" r="3.0"/>
<circle cx="427.1" cy="164.8" r="3.0"/>
<circle cx="428.3" cy="164.8" r="3.0"/>
<circle cx="430.5" cy="174.0" r="3.0"/>
<circle cx="425.0" cy="179.5" r="3.0"/>
<circle cx="429.8" cy="184.7" r="3.0"/>
<circle cx="418.7" cy="186.6" r="3.0"/>
<circle cx="419.7" cy="186.6" r="3.0"/>
<circle cx="420.8" cy="186.6" r="3.0"/>
<circle cx="421.8" cy="186.6" r="3.0"/>
<circle cx="408.4" cy="189.5" r="3.0"/>
<circle cx="413.2" cy="191.2" r="3.0"/>
<circle cx="395.6" cy="197.1" r="3.0"/>
<circle cx="397.0" cy="197.1" r="3.0"/>
<circle cx="398.3" cy="197.1" r="3.0"/>
<circle cx="438.4" cy="192.4" r="3.0"/>
<circle cx="439.9" cy="192.4" r="3.0"/>
<circle cx="441.3" cy="192.4" r="3.0"/>
<circle cx="437.7" cy="203.5" r="3.0"/>
<circle cx="436.3" cy="208.2" r="3.0"/>
<circle cx="442.3" cy="204.6" r="3.0"/>
<circle cx="445.0" cy="198.9" r="3.0"/>
<circle cx="447.8" cy="194.5" r="3.0"/>
<circle cx="414.6" cy="215.9" r="3.0"/>
<circle cx="417.8" cy="214.0" r="3.0"/>
<circle cx="399.5" cy="221.7" r="3.0"/>
<circle cx="403.0" cy="220.5" r="3.0"/>
<circle cx="407.1" cy="219.0" r="3.0"/>
<circle cx="401.2" cy="221.2" r="3.0"/>
<circle cx="405.0" cy="219.8" r="3.0"/>
<circle cx="416.2" cy="215.0" r="3.0"/>
<circle cx="492.2" cy="145.2" r="3.0"/>
<circle cx="490.5" cy="148.0" r="3.0"/>
<circle cx="489.0" cy="150.5" r="3.0"/>
<circle cx="487.3" cy="152.7" r="3.0"/>
<circle cx="486.6" cy="161.5" r="3.0"/>
<circle cx="485.5" cy="179.0" r="3.0"/>
<circle cx="482.6" cy="176.5" r="3.0"/>
<circle cx="479.7" cy="173.6" r="3.0"/>
<circle cx="473.9" cy="173.6" r="3.0"/>
<circle cx="471.7" cy="176.9" r="3.0"/>
<circle cx="470.3" cy="181.7" r="3.0"/>
<circle cx="474.6" cy="183.4" r="3.0"/>
<circle cx="466.7" cy="173.6" r="3.0"/>
<circle cx="463.8" cy="176.2" r="3.0"/>
<circle cx="463.1" cy="179.8" r="3.0"/>
<circle cx="460.2" cy="175.0" r="3.0"/>
<circle cx="457.3" cy="178.3" r="3.0"/>
<circle cx="452.7" cy="183.4" r="3.0"/>
<circle cx="451.5" cy="187.7" r="3.0"/>
<circle cx="454.4" cy="189.9" r="3.0"/>
<circle cx="448.7" cy="192.8" r="3.0"/>
<circle cx="450.1" cy="195.7" r="3.0"/>
<circle cx="445.8" cy="197.1" r="3.0"/>
<circle cx="441.4" cy="192.3" r="3.0"/>
<circle cx="469.3" cy="189.5" r="3.0"/>
<circle cx="475.8" cy="191.0" r="3.0"/>
<circle cx="665.8" cy="130.6" r="3.0"/>
<circle cx="667.0" cy="130.6" r="3.0"/>
<circle cx="668.1" cy="130.6" r="3.0"/>
<circle cx="669.3" cy="130.6" r="3.0"/>
<circle cx="670.4" cy="130.6" r="3.0"/>
<circle cx="671.6" cy="130.6" r="3.0"/>
<circle cx="672.8" cy="130.6" r="3.0"/>
<circle cx="673.9" cy="130.6" r="3.0"/>
<circle cx="675.1" cy="130.6" r="3.0"/>
<circle cx="676.2" cy="130.6" r="3.0"/>
<circle cx="677.4" cy="130.6" r="3.0"/>
<circle cx="693.7" cy="130.6" r="3.0"/>
<circle cx="694.8" cy="130.6" r="3.0"/>
<circle cx="696.0" cy="130.6" r="3.0"/>
<circle cx="697.1" cy="130.6" r="3.0"/>
<circle cx="698.3" cy="130.6" r="3.0"/>
<circle cx="699.4" cy="130.6" r="3.0"/>
<circle cx="715.6" cy="130.6" r="3.0"/>
<circle cx="716.8" cy="130.6" r="3.0"/>
<circle cx="717.9" cy="130.6" r="3.0"/>
<circle cx="719.0" cy="130.6" r="3.0"/>
<circle cx="720.2" cy="130.6" r="3.0"/>
<circle cx="721.4" cy="130.6" r="3.0"/>
<circle cx="722.5" cy="130.6" r="3.0"/>
<circle cx="686.0" cy="190.8" r="3.0"/>
<circle cx="683.9" cy="192.3" r="3.0"/>
<circle cx="682.4" cy="195.6" r="3.0"/>
<circle cx="681.0" cy="203.4" r="3.0"/>
<circle cx="691.8" cy="197.0" r="3.0"/>
<circle cx="689.6" cy="198.0" r="3.0"/>
<circle cx="688.9" cy="201.6" r="3.0"/>
<circle cx="687.9" cy="203.8" r="3.0"/>
<circle cx="702.3" cy="210.6" r="3.0"/>
<circle cx="706.2" cy="210.3" r="3.0"/>
<circle cx="709.1" cy="214.6" r="3.0"/>
<circle cx="712.0" cy="215.4" r="3.0"/>
<circle cx="714.6" cy="217.5" r="3.0"/>
<circle cx="704.2" cy="210.4" r="3.0"/>
<circle cx="707.6" cy="212.5" r="3.0"/>
</g><g fill="#00f">
<circle cx="303.9" cy="260.6" r="3.0"/>
<circle cx="306.5" cy="258.5" r="3.0"/>
<circle cx="310.0" cy="257.2" r="3.0"/>
<circle cx="312.6" cy="257.6" r="3.0"/>
<circle cx="315.3" cy="258.3" r="3.0"/>
<circle cx="322.0" cy="268.5" r="3.0"/>
<circle cx="324.3" cy="269.6" r="3.0"/>
<circle cx="322.0" cy="276.4" r="3.0"/>
<circle cx="326.5" cy="271.2" r="3.0"/>
<circle cx="328.8" cy="273.0" r="3.0"/>
<circle cx="330.5" cy="274.8" r="3.0"/>
<circle cx="332.2" cy="276.4" r="3.0"/>
<circle cx="334.5" cy="278.0" r="3.0"/>
<circle cx="336.8" cy="279.2" r="3.0"/>
<circle cx="339.0" cy="279.9" r="3.0"/>
<circle cx="341.3" cy="280.3" r="3.0"/>
<circle cx="343.6" cy="279.2" r="3.0"/>
<circle cx="304.6" cy="303.6" r="3.0"/>
<circle cx="306.2" cy="308.6" r="3.0"/>
<circle cx="306.9" cy="317.7" r="3.0"/>
<circle cx="316.8" cy="327.4" r="3.0"/>
<circle cx="319.8" cy="325.8" r="3.0"/>
<circle cx="318.3" cy="326.6" r="3.0"/>
<circle cx="342.4" cy="320.0" r="3.0"/>
<circle cx="344.7" cy="321.3" r="3.0"/>
<circle cx="464.6" cy="234.6" r="3.0"/>
<circle cx="466.8" cy="234.6" r="3.0"/>
<circle cx="469.0" cy="234.6" r="3.0"/>
<circle cx="492.1" cy="240.7" r="3.0"/>
<circle cx="486.7" cy="262.2" r="3.0"/>
<circle cx="488.6" cy="263.8" r="3.0"/>
<circle cx="490.5" cy="265.5" r="3.0"/>
<circle cx="449.3" cy="281.9" r="3.0"/>
<circle cx="450.4" cy="289.0" r="3.0"/>
<circle cx="465.3" cy="281.2" r="3.0"/>
<circle cx="466.8" cy="281.2" r="3.0"/>
<circle cx="468.2" cy="281.2" r="3.0"/>
<circle cx="395.7" cy="296.4" r="3.0"/>
<circle cx="394.9" cy="299.3" r="3.0"/>
<circle cx="397.9" cy="299.3" r="3.0"/>
<circle cx="399.8" cy="310.4" r="3.0"/>
<circle cx="401.5" cy="316.6" r="3.0"/>
<circle cx="402.7" cy="316.6" r="3.0"/>
<circle cx="403.9" cy="316.6" r="3.0"/>
<circle cx="405.1" cy="316.6" r="3.0"/>
<circle cx="405.6" cy="326.0" r="3.0"/>
<circle cx="406.7" cy="326.0" r="3.0"/>
<circle cx="407.8" cy="326.0" r="3.0"/>
<circle cx="408.9" cy="326.0" r="3.0"/>
<circle cx="412.2" cy="322.7" r="3.0"/>
<circle cx="413.4" cy="326.0" r="3.0"/>
<circle cx="410.8" cy="324.5" r="3.0"/>
<circle cx="409.7" cy="302.5" r="3.0"/>
<circle cx="410.5" cy="307.1" r="3.0"/>
<circle cx="414.7" cy="312.0" r="3.0"/>
<circle cx="415.5" cy="308.7" r="3.0"/>
<circle cx="417.1" cy="305.4" r="3.0"/>
<circle cx="419.6" cy="303.8" r="3.0"/>
<circle cx="421.6" cy="302.1" r="3.0"/>
<circle cx="412.6" cy="309.5" r="3.0"/>
<circle cx="422.6" cy="322.4" r="3.0"/>
<circle cx="423.7" cy="328.8" r="3.0"/>
<circle cx="424.8" cy="328.8" r="3.0"/>
<circle cx="425.8" cy="328.8" r="3.0"/>
<circle cx="426.8" cy="328.8" r="3.0"/>
<circle cx="427.9" cy="328.8" r="3.0"/>
<circle cx="429.5" cy="320.8" r="3.0"/>
<circle cx="431.2" cy="321.7" r="3.0"/>
<circle cx="432.8" cy="322.7" r="3.0"/>
<circle cx="435.3" cy="325.2" r="3.0"/>
<circle cx="437.0" cy="327.0" r="3.0"/>
<circle cx="438.6" cy="328.8" r="3.0"/>
<circle cx="439.8" cy="328.8" r="3.0"/>
<circle cx="441.1" cy="328.8" r="3.0"/>
<circle cx="442.3" cy="328.8" r="3.0"/>
<circle cx="443.6" cy="328.8" r="3.0"/>
<circle cx="444.8" cy="328.8" r="3.0"/>
<circle cx="446.0" cy="328.8" r="3.0"/>
<circle cx="447.3" cy="328.8" r="3.0"/>
<circle cx="448.5" cy="328.8" r="3.0"/>
<circle cx="451.8" cy="323.6" r="3.0"/>
<circle cx="453.0" cy="322.0" r="3.0"/>
<circle cx="454.2" cy="320.3" r="3.0"/>
<circle cx="450.2" cy="326.2" r="3.0"/>
<circle cx="457.5" cy="328.8" r="3.0"/>
<circle cx="458.7" cy="328.8" r="3.0"/>
<circle cx="459.8" cy="328.8" r="3.0"/>
<circle cx="461.0" cy="328.8" r="3.0"/>
<circle cx="462.1" cy="328.8" r="3.0"/>
<circle cx="463.3" cy="328.8" r="3.0"/>
<circle cx="470.2" cy="328.8" r="3.0"/>
<circle cx="471.4" cy="328.8" r="3.0"/>
<circle cx="472.6" cy="328.8" r="3.0"/>
<circle cx="473.7" cy="328.8" r="3.0"/>
<circle cx="474.9" cy="328.8" r="3.0"/>
<circle cx="476.1" cy="328.8" r="3.0"/>
<circle cx="477.3" cy="328.8" r="3.0"/>
<circle cx="478.4" cy="328.8" r="3.0"/>
<circle cx="479.6" cy="328.8" r="3.0"/>
<circle cx="480.8" cy="328.8" r="3.0"/>
<circle cx="482.0" cy="328.8" r="3.0"/>
<circle cx="483.1" cy="328.8" r="3.0"/>
<circle cx="484.3" cy="328.8" r="3.0"/>
<circle cx="485.5" cy="328.8" r="3.0"/>
<circle cx="487.7" cy="322.4" r="3.0"/>
<circle cx="666.5" cy="233.1" r="3.0"/>
<circle cx="669.4" cy="231.7" r="3.0"/>
<circle cx="671.6" cy="233.1" r="3.0"/>
<circle cx="668.0" cy="232.5" r="3.0"/>
<circle cx="688.9" cy="234.8" r="3.0"/>
<circle cx="691.1" cy="235.6" r="3.0"/>
<circle cx="693.0" cy="237.0" r="3.0"/>
<circle cx="694.7" cy="238.4" r="3.0"/>
<circle cx="691.8" cy="241.8" r="3.0"/>
<circle cx="694.0" cy="241.4" r="3.0"/>
<circle cx="696.5" cy="241.0" r="3.0"/>
<circle cx="699.0" cy="240.6" r="3.0"/>
<circle cx="673.0" cy="246.7" r="3.0"/>
<circle cx="674.1" cy="246.7" r="3.0"/>
<circle cx="675.2" cy="246.7" r="3.0"/>
<circle cx="676.3" cy="246.7" r="3.0"/>
<circle cx="677.4" cy="246.7" r="3.0"/>
<circle cx="707.0" cy="245.4" r="3.0"/>
<circle cx="708.8" cy="245.7" r="3.0"/>
<circle cx="710.6" cy="246.1" r="3.0"/>
<circle cx="713.0" cy="247.8" r="3.0"/>
<circle cx="715.6" cy="249.6" r="3.0"/>
<circle cx="717.3" cy="251.2" r="3.0"/>
<circle cx="718.8" cy="252.8" r="3.0"/>
<circle cx="717.8" cy="285.3" r="3.0"/>
<circle cx="701.9" cy="322.4" r="3.0"/>
<circle cx="680.7" cy="328.9" r="3.0"/>
<circle cx="681.9" cy="328.9" r="3.0"/>
<circle cx="683.2" cy="328.9" r="3.0"/>
<circle cx="684.4" cy="328.9" r="3.0"/>
<circle cx="685.7" cy="328.9" r="3.0"/>
<circle cx="686.9" cy="328.9" r="3.0"/>
<circle cx="702.4" cy="328.9" r="3.0"/>
<circle cx="703.4" cy="328.9" r="3.0"/>
<circle cx="704.4" cy="328.9" r="3.0"/>
<circle cx="705.4" cy="328.9" r="3.0"/>
</g></g>
<rect x="302.4" y="32.6" width="419.1" height="395.8" fill="none" stroke="#000" stroke-width="1.19"/>
<g stroke="#000" stroke-width="1.19">
<line x1="302.40" y1="428.4" x2="302.40" y2="433.59"/>
<line x1="407.17" y1="428.4" x2="407.17" y2="433.59"/>
<line x1="511.95" y1="428.4" x2="511.95" y2="433.59"/>
<line x1="616.73" y1="428.4" x2="616.73" y2="433.59"/>
<line x1="721.50" y1="428.4" x2="721.50" y2="433.59"/>
<line x1="297.21" y1="385.72" x2="302.4" y2="385.72"/>
<line x1="297.21" y1="308.11" x2="302.4" y2="308.11"/>
<line x1="297.21" y1="230.50" x2="302.4" y2="230.50"/>
<line x1="297.21" y1="152.89" x2="302.4" y2="152.89"/>
<line x1="297.21" y1="75.28" x2="302.4" y2="75.28"/>
</g>
<g class="s">
<text transform="translate(302.40 450.30) scale(1 1.04)" text-anchor="middle">180</text>
<text transform="translate(407.17 450.30) scale(1 1.04)" text-anchor="middle">90</text>
<text transform="translate(511.95 450.30) scale(1 1.04)" text-anchor="middle">0</text>
<text transform="translate(616.73 450.30) scale(1 1.04)" text-anchor="middle">-90</text>
<text transform="translate(721.50 450.30) scale(1 1.04)" text-anchor="middle">-180</text>
<text transform="translate(292.00 391.02) scale(1 1.04)" text-anchor="end">−200</text>
<text transform="translate(292.00 313.41) scale(1 1.04)" text-anchor="end">−100</text>
<text transform="translate(292.00 235.80) scale(1 1.04)" text-anchor="end">0</text>
<text transform="translate(292.00 158.19) scale(1 1.04)" text-anchor="end">100</text>
<text transform="translate(292.00 80.58) scale(1 1.04)" text-anchor="end">200</text>
<text transform="translate(511.95 470.50) scale(1 1.04)" text-anchor="middle">Galactic Longitude (degrees)</text>
<text transform="translate(224.40 230.75) rotate(-90) scale(1 1.02)" text-anchor="middle" textLength="390.3" lengthAdjust="spacing">Velocity Edges: Upper (Red) and Lower (Blue) (km/s)</text>
<text transform="translate(242.10 230.75) rotate(-90) scale(1 1.02)" text-anchor="middle" textLength="316.9" lengthAdjust="spacing" xml:space="preserve" style="white-space:pre">ezGalVelGLonEdgeLevelL = 1.010  20  160</text>
</g>
<g class="t">
<text x="22.00" y="23.75" textLength="512.8" lengthAdjust="spacing">LRO-H2(SCRT)_El_88-95_Az_178_250425_00P00.0Gal.npz</text>
<text x="596.90" y="23.75" textLength="189.5" lengthAdjust="spacing">LRO_alldata-170825_</text>
<text x="843.00" y="23.75" textLength="170.2" lengthAdjust="spacing">(ezGal240227a.py)</text>
</g>
<g shape-rendering="crispEdges">
<rect x="753.3" y="424.05" width="20.6" height="4.65" fill="#100006"/>
<rect x="753.3" y="419.70" width="20.6" height="4.65" fill="#200019"/>
<rect x="753.3" y="415.35" width="20.6" height="4.65" fill="#2a002c"/>
<rect x="753.3" y="411.00" width="20.6" height="4.65" fill="#300038"/>
<rect x="753.3" y="406.65" width="20.6" height="4.65" fill="#37004a"/>
<rect x="753.3" y="402.30" width="20.6" height="4.65" fill="#3e005c"/>
<rect x="753.3" y="397.95" width="20.6" height="4.65" fill="#44006d"/>
<rect x="753.3" y="393.60" width="20.6" height="4.65" fill="#49007e"/>
<rect x="753.3" y="389.25" width="20.6" height="4.65" fill="#4d0089"/>
<rect x="753.3" y="384.91" width="20.6" height="4.65" fill="#510098"/>
<rect x="753.3" y="380.56" width="20.6" height="4.65" fill="#5600a7"/>
<rect x="753.3" y="376.21" width="20.6" height="4.65" fill="#5a01b5"/>
<rect x="753.3" y="371.86" width="20.6" height="4.65" fill="#5e01c2"/>
<rect x="753.3" y="367.51" width="20.6" height="4.65" fill="#6101ca"/>
<rect x="753.3" y="363.16" width="20.6" height="4.65" fill="#6501d5"/>
<rect x="753.3" y="358.81" width="20.6" height="4.65" fill="#6901de"/>
<rect x="753.3" y="354.46" width="20.6" height="4.65" fill="#6c01e7"/>
<rect x="753.3" y="350.11" width="20.6" height="4.65" fill="#7002ee"/>
<rect x="753.3" y="345.76" width="20.6" height="4.65" fill="#7302f4"/>
<rect x="753.3" y="341.41" width="20.6" height="4.65" fill="#7502f8"/>
<rect x="753.3" y="337.06" width="20.6" height="4.65" fill="#7903fb"/>
<rect x="753.3" y="332.71" width="20.6" height="4.65" fill="#7c03fe"/>
<rect x="753.3" y="328.36" width="20.6" height="4.65" fill="#7f04ff"/>
<rect x="753.3" y="324.01" width="20.6" height="4.65" fill="#8204ff"/>
<rect x="753.3" y="319.66" width="20.6" height="4.65" fill="#8405fe"/>
<rect x="753.3" y="315.31" width="20.6" height="4.65" fill="#8706fb"/>
<rect x="753.3" y="310.96" width="20.6" height="4.65" fill="#8906f7"/>
<rect x="753.3" y="306.62" width="20.6" height="4.65" fill="#8c07f2"/>
<rect x="753.3" y="302.27" width="20.6" height="4.65" fill="#8f08eb"/>
<rect x="753.3" y="297.92" width="20.6" height="4.65" fill="#9108e6"/>
<rect x="753.3" y="293.57" width="20.6" height="4.65" fill="#9309dd"/>
<rect x="753.3" y="289.22" width="20.6" height="4.65" fill="#960ad3"/>
<rect x="753.3" y="284.87" width="20.6" height="4.65" fill="#980cc8"/>
<rect x="753.3" y="280.52" width="20.6" height="4.65" fill="#9b0dbb"/>
<rect x="753.3" y="276.17" width="20.6" height="4.65" fill="#9d0eae"/>
<rect x="753.3" y="271.82" width="20.6" height="4.65" fill="#9f0fa5"/>
<rect x="753.3" y="267.47" width="20.6" height="4.65" fill="#a11096"/>
<rect x="753.3" y="263.12" width="20.6" height="4.65" fill="#a41286"/>
<rect x="753.3" y="258.77" width="20.6" height="4.65" fill="#a61376"/>
<rect x="753.3" y="254.42" width="20.6" height="4.65" fill="#a81565"/>
<rect x="753.3" y="250.07" width="20.6" height="4.65" fill="#aa1659"/>
<rect x="753.3" y="245.72" width="20.6" height="4.65" fill="#ac1847"/>
<rect x="753.3" y="241.37" width="20.6" height="4.65" fill="#ae1a35"/>
<rect x="753.3" y="237.02" width="20.6" height="4.65" fill="#b01c22"/>
<rect x="753.3" y="232.67" width="20.6" height="4.65" fill="#b31e10"/>
<rect x="753.3" y="228.33" width="20.6" height="4.65" fill="#b52000"/>
<rect x="753.3" y="223.98" width="20.6" height="4.65" fill="#b62200"/>
<rect x="753.3" y="219.63" width="20.6" height="4.65" fill="#b82400"/>
<rect x="753.3" y="215.28" width="20.6" height="4.65" fill="#ba2700"/>
<rect x="753.3" y="210.93" width="20.6" height="4.65" fill="#bc2900"/>
<rect x="753.3" y="206.58" width="20.6" height="4.65" fill="#be2c00"/>
<rect x="753.3" y="202.23" width="20.6" height="4.65" fill="#c02e00"/>
<rect x="753.3" y="197.88" width="20.6" height="4.65" fill="#c23100"/>
<rect x="753.3" y="193.53" width="20.6" height="4.65" fill="#c43400"/>
<rect x="753.3" y="189.18" width="20.6" height="4.65" fill="#c63700"/>
<rect x="753.3" y="184.83" width="20.6" height="4.65" fill="#c73a00"/>
<rect x="753.3" y="180.48" width="20.6" height="4.65" fill="#c93d00"/>
<rect x="753.3" y="176.13" width="20.6" height="4.65" fill="#cb4000"/>
<rect x="753.3" y="171.78" width="20.6" height="4.65" fill="#cc4400"/>
<rect x="753.3" y="167.43" width="20.6" height="4.65" fill="#ce4800"/>
<rect x="753.3" y="163.08" width="20.6" height="4.65" fill="#d04c00"/>
<rect x="753.3" y="158.73" width="20.6" height="4.65" fill="#d25000"/>
<rect x="753.3" y="154.38" width="20.6" height="4.65" fill="#d35200"/>
<rect x="753.3" y="150.04" width="20.6" height="4.65" fill="#d55700"/>
<rect x="753.3" y="145.69" width="20.6" height="4.65" fill="#d75b00"/>
<rect x="753.3" y="141.34" width="20.6" height="4.65" fill="#d96000"/>
<rect x="753.3" y="136.99" width="20.6" height="4.65" fill="#da6500"/>
<rect x="753.3" y="132.64" width="20.6" height="4.65" fill="#dc6800"/>
<rect x="753.3" y="128.29" width="20.6" height="4.65" fill="#dd6d00"/>
<rect x="753.3" y="123.94" width="20.6" height="4.65" fill="#df7200"/>
<rect x="753.3" y="119.59" width="20.6" height="4.65" fill="#e17700"/>
<rect x="753.3" y="115.24" width="20.6" height="4.65" fill="#e27d00"/>
<rect x="753.3" y="110.89" width="20.6" height="4.65" fill="#e48100"/>
<rect x="753.3" y="106.54" width="20.6" height="4.65" fill="#e58600"/>
<rect x="753.3" y="102.19" width="20.6" height="4.65" fill="#e78c00"/>
<rect x="753.3" y="97.84" width="20.6" height="4.65" fill="#e99300"/>
<rect x="753.3" y="93.49" width="20.6" height="4.65" fill="#ea9900"/>
<rect x="753.3" y="89.14" width="20.6" height="4.65" fill="#ec9f00"/>
<rect x="753.3" y="84.79" width="20.6" height="4.65" fill="#eda400"/>
<rect x="753.3" y="80.44" width="20.6" height="4.65" fill="#eeab00"/>
<rect x="753.3" y="76.09" width="20.6" height="4.65" fill="#f0b200"/>
<rect x="753.3" y="71.75" width="20.6" height="4.65" fill="#f2b900"/>
<rect x="753.3" y="67.40" width="20.6" height="4.65" fill="#f3c000"/>
<rect x="753.3" y="63.05" width="20.6" height="4.65" fill="#f4c500"/>
<rect x="753.3" y="58.70" width="20.6" height="4.65" fill="#f6cd00"/>
<rect x="753.3" y="54.35" width="20.6" height="4.65" fill="#f7d500"/>
<rect x="753.3" y="50.00" width="20.6" height="4.65" fill="#f9dd00"/>
<rect x="753.3" y="45.65" width="20.6" height="4.65" fill="#fae500"/>
<rect x="753.3" y="41.30" width="20.6" height="4.65" fill="#fbeb00"/>
<rect x="753.3" y="36.95" width="20.6" height="4.65" fill="#fdf300"/>
<rect x="753.3" y="32.60" width="20.6" height="4.65" fill="#fefc00"/>
</g>
<rect x="753.3" y="32.6" width="20.6" height="395.8" fill="none" stroke="#000" stroke-width="1.19"/>
<g stroke="#000" stroke-width="1.19">
<line x1="773.9" y1="428.40" x2="779.09" y2="428.40"/>
<line x1="773.9" y1="385.01" x2="779.09" y2="385.01"/>
<line x1="773.9" y1="341.62" x2="779.09" y2="341.62"/>
<line x1="773.9" y1="298.23" x2="779.09" y2="298.23"/>
<line x1="773.9" y1="254.85" x2="779.09" y2="254.85"/>
<line x1="773.9" y1="211.46" x2="779.09" y2="211.46"/>
<line x1="773.9" y1="168.07" x2="779.09" y2="168.07"/>
<line x1="773.9" y1="124.68" x2="779.09" y2="124.68"/>
<line x1="773.9" y1="81.29" x2="779.09" y2="81.29"/>
<line x1="773.9" y1="37.90" x2="779.09" y2="37.90"/>
</g><g class="s">
<text transform="translate(783.60 434.40) scale(1 1.04)">0.990</text>
<text transform="translate(783.60 391.01) scale(1 1.04)">1.125</text>
<text transform="translate(783.60 347.62) scale(1 1.04)">1.260</text>
<text transform="translate(783.60 304.23) scale(1 1.04)">1.395</text>
<text transform="translate(783.60 260.85) scale(1 1.04)">1.530</text>
<text transform="translate(783.60 217.46) scale(1 1.04)">1.665</text>
<text transform="translate(783.60 174.07) scale(1 1.04)">1.800</text>
<text transform="translate(783.60 130.68) scale(1 1.04)">1.935</text>
<text transform="translate(783.60 87.29) scale(1 1.04)">2.070</text>
<text transform="translate(783.60 43.90) scale(1 1.04)">2.205</text>
</g>
</svg></body></html>
